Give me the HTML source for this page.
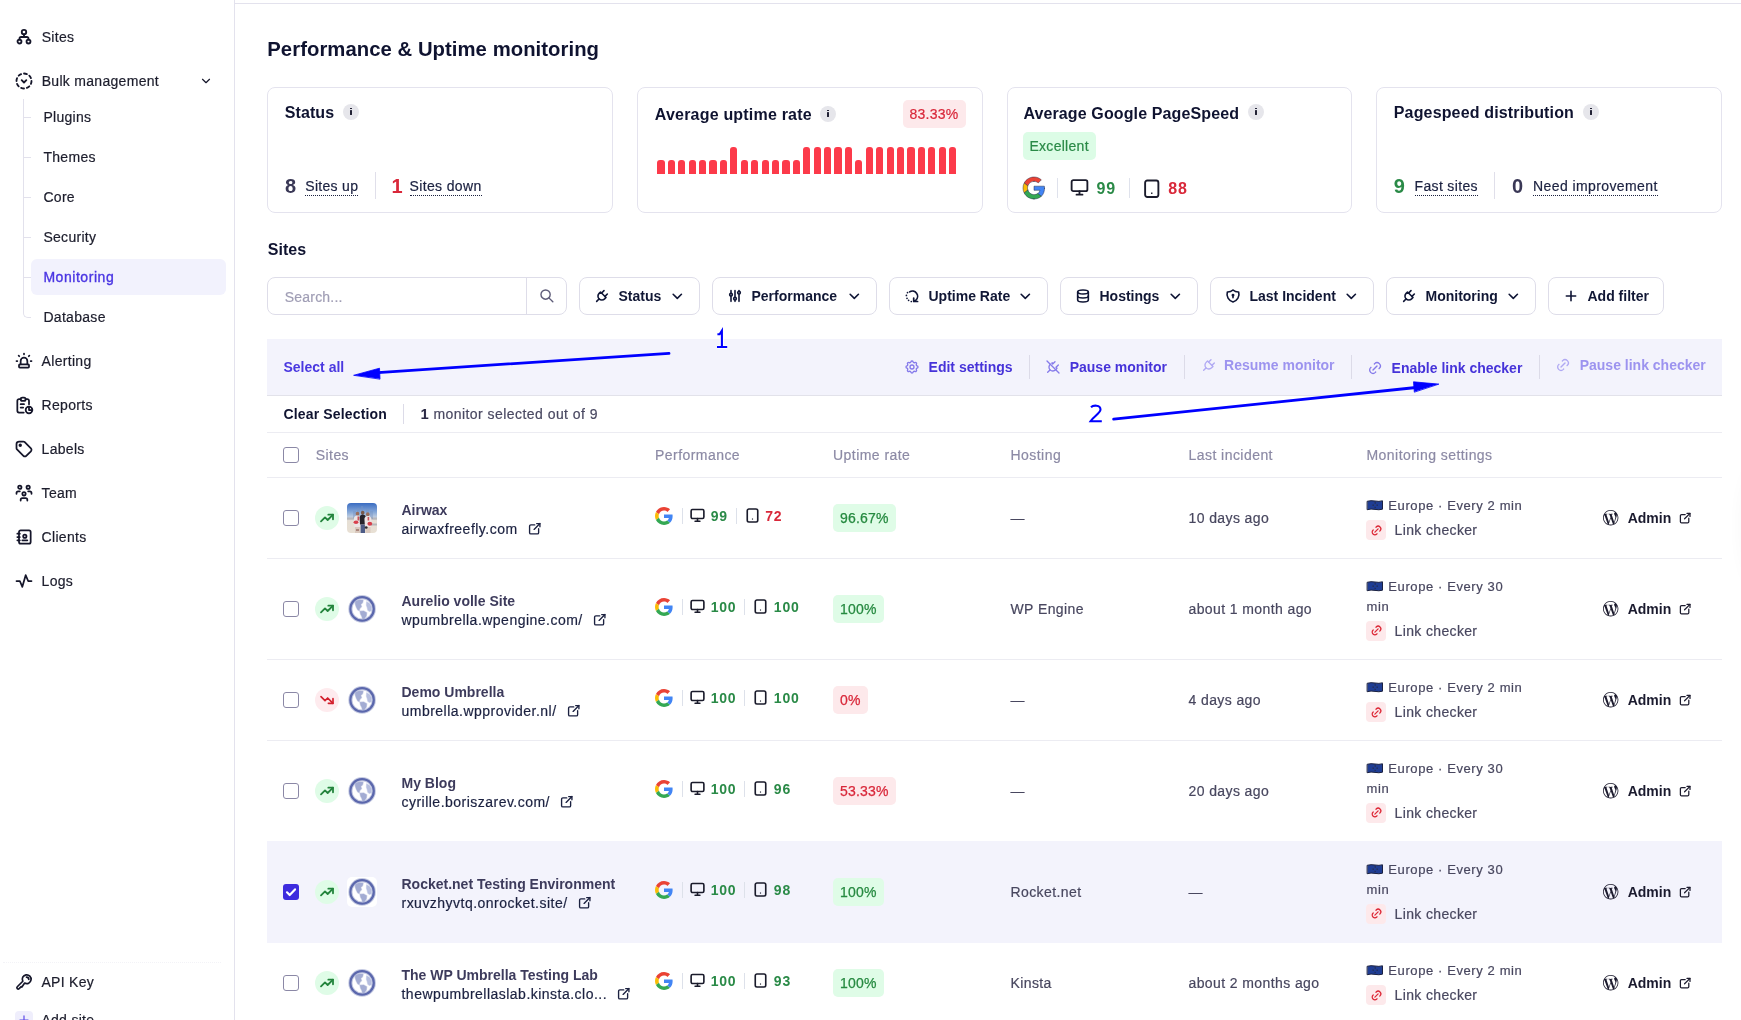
<!DOCTYPE html><html><head><meta charset="utf-8"><title>Performance &amp; Uptime monitoring</title><style>
*{box-sizing:border-box;margin:0;padding:0}
html,body{width:1741px;height:1020px;overflow:hidden;background:#fff}
body{position:relative;font-family:"Liberation Sans",sans-serif;font-size:14px;color:#1b2140}
.a{position:absolute}
.t{position:absolute;white-space:nowrap}
.ic{fill:none;stroke:currentColor;stroke-linecap:round;stroke-linejoin:round;overflow:visible}
.card{position:absolute;border:1px solid #e4e3ee;border-radius:8px;background:#fff}
.info{position:absolute;width:16px;height:16px;border-radius:50%;background:#e6e6eb}
.info:after{content:"";position:absolute;left:7px;top:6px;width:2px;height:5px;background:#222235;border-radius:0.5px}
.info:before{content:"";position:absolute;left:7px;top:3.5px;width:2px;height:1.6px;background:#222235}
.btn{position:absolute;top:277px;height:38px;border:1px solid #dedde9;border-radius:8px;background:#fff}
.dot{border-bottom:1px dotted #1b2140;padding-bottom:1px;display:inline-block;line-height:16px}
.vr{position:absolute;width:1px}
.hr{position:absolute;height:1px}
.cb{position:absolute;width:16px;height:16px;border:1.3px solid #8b88a6;border-radius:3px;background:#fff}
.badge{position:absolute;border-radius:5px}

</style></head><body>
<div id="root" style="position:absolute;left:0;top:0;width:1741px;height:1020px;will-change:transform">
<svg width="0" height="0" style="position:absolute"><defs><filter id="gb" x="-20%" y="-20%" width="140%" height="140%"><feGaussianBlur stdDeviation="0.7"/></filter></defs></svg>
<div class="vr" style="left:234px;top:0;height:1020px;background:#e3e2ed"></div>
<svg class="a ic" style="left:14px;top:26px;width:20px;height:20px;color:#15162a;" viewBox="0 0 24 24" stroke-width="2.2" ><circle cx="12" cy="7.3" r="2.7"/><circle cx="6.6" cy="18.6" r="2.35"/><circle cx="17.4" cy="18.6" r="2.35"/><path d="M12 9.9v3.3M6.6 16.4v-1.2a2 2 0 0 1 2-2h6.8a2 2 0 0 1 2 2v1.2"/></svg>
<div class="t " style="left:41.7px;top:27.15px;font-size:14px;line-height:20px;-webkit-text-stroke:0.2px;color:#1c1d2c;letter-spacing:0.3px;">Sites</div>
<svg class="a ic" style="left:14px;top:71px;width:20px;height:20px;color:#15162a;" viewBox="0 0 24 24" stroke-width="2.2" ><path d="M8.56 3.69a9 9 0 0 0-2.92 1.95M3.69 8.56A9 9 0 0 0 3 12M3.69 15.44a9 9 0 0 0 1.95 2.92M8.56 20.31A9 9 0 0 0 12 21M15.44 20.31a9 9 0 0 0 2.92-1.95M20.31 15.44A9 9 0 0 0 21 12M20.31 8.56a9 9 0 0 0-1.95-2.92M15.44 3.69A9 9 0 0 0 12 3"/><path d="M9.2 11l2.8 2.8 2.8-2.8"/></svg>
<div class="t " style="left:41.7px;top:71.15px;font-size:14px;line-height:20px;-webkit-text-stroke:0.2px;color:#1c1d2c;letter-spacing:0.3px;">Bulk management</div>
<svg class="a ic" style="left:199px;top:74px;width:14px;height:14px;color:#15162a;" viewBox="0 0 24 24" stroke-width="2" ><path d="M6 9l6 6l6-6"/></svg>
<div class="vr" style="left:23px;top:99px;height:212px;background:#e2e1ec"></div>
<div class="hr" style="left:23px;top:117px;width:8px;background:#e2e1ec"></div>
<div class="t " style="left:43.4px;top:107.15px;font-size:14px;line-height:20px;-webkit-text-stroke:0.2px;color:#1c1d2c;letter-spacing:0.3px;">Plugins</div>
<div class="hr" style="left:23px;top:157px;width:8px;background:#e2e1ec"></div>
<div class="t " style="left:43.4px;top:147.15px;font-size:14px;line-height:20px;-webkit-text-stroke:0.2px;color:#1c1d2c;letter-spacing:0.3px;">Themes</div>
<div class="hr" style="left:23px;top:197px;width:8px;background:#e2e1ec"></div>
<div class="t " style="left:43.4px;top:187.15px;font-size:14px;line-height:20px;-webkit-text-stroke:0.2px;color:#1c1d2c;letter-spacing:0.3px;">Core</div>
<div class="hr" style="left:23px;top:237px;width:8px;background:#e2e1ec"></div>
<div class="t " style="left:43.4px;top:227.15px;font-size:14px;line-height:20px;-webkit-text-stroke:0.2px;color:#1c1d2c;letter-spacing:0.3px;">Security</div>
<div class="hr" style="left:23px;top:277px;width:8px;background:#e2e1ec"></div>
<div class="a" style="left:31px;top:259px;width:195px;height:36px;border-radius:6px;background:#f2f2fd"></div>
<div class="t " style="left:43.4px;top:267.15px;font-size:14px;line-height:20px;-webkit-text-stroke:0.2px;color:#4a35e3;letter-spacing:0.55px;-webkit-text-stroke:0.35px #4a35e3;">Monitoring</div>
<div class="a" style="left:23px;top:311px;width:8px;height:7px;border-left:1px solid #e2e1ec;border-bottom:1px solid #e2e1ec;border-bottom-left-radius:5px"></div>
<div class="t " style="left:43.4px;top:307.15px;font-size:14px;line-height:20px;-webkit-text-stroke:0.2px;color:#1c1d2c;letter-spacing:0.3px;">Database</div>
<svg class="a ic" style="left:14px;top:351px;width:20px;height:20px;color:#15162a;" viewBox="0 0 24 24" stroke-width="2.1" ><path d="M8 16v-4a4 4 0 0 1 8 0v4"/><path d="M3 12h1M12 3v1M20 12h1M5.6 5.6l.7 .7M18.4 5.6l-.7 .7"/><rect x="6" y="16" width="12" height="4" rx="1"/></svg>
<div class="t " style="left:41.6px;top:351.15px;font-size:14px;line-height:20px;-webkit-text-stroke:0.2px;color:#1c1d2c;letter-spacing:0.3px;">Alerting</div>
<svg class="a ic" style="left:14px;top:395px;width:20px;height:20px;color:#15162a;" viewBox="0 0 24 24" stroke-width="2.1" ><path d="M8 5h-2a2 2 0 0 0-2 2v12a2 2 0 0 0 2 2h5.7"/><path d="M18 14v4h4"/><path d="M18 11v-4a2 2 0 0 0-2-2h-2"/><rect x="8" y="3" width="6" height="4" rx="2"/><circle cx="18" cy="18" r="4"/><path d="M8 11h4M8 15h3"/></svg>
<div class="t " style="left:41.6px;top:395.15px;font-size:14px;line-height:20px;-webkit-text-stroke:0.2px;color:#1c1d2c;letter-spacing:0.3px;">Reports</div>
<svg class="a ic" style="left:14px;top:439px;width:20px;height:20px;color:#15162a;" viewBox="0 0 24 24" stroke-width="2.1" ><circle cx="7.5" cy="7.5" r="1" fill="currentColor"/><path d="M3 6v5.17a2 2 0 0 0 .59 1.42l7.71 7.7a2.41 2.41 0 0 0 3.41 0l5.59-5.58a2.41 2.41 0 0 0 0-3.41l-7.71-7.71a2 2 0 0 0-1.41-.59h-5.18a3 3 0 0 0-3 3z"/></svg>
<div class="t " style="left:41.6px;top:439.15px;font-size:14px;line-height:20px;-webkit-text-stroke:0.2px;color:#1c1d2c;letter-spacing:0.3px;">Labels</div>
<svg class="a ic" style="left:14px;top:483px;width:20px;height:20px;color:#15162a;" viewBox="0 0 24 24" stroke-width="2.1" ><circle cx="12" cy="13" r="2"/><path d="M8 21v-1a2 2 0 0 1 2-2h4a2 2 0 0 1 2 2v1"/><circle cx="17" cy="5" r="2"/><path d="M17 10h2a2 2 0 0 1 2 2v1"/><circle cx="7" cy="5" r="2"/><path d="M3 13v-1a2 2 0 0 1 2-2h2"/></svg>
<div class="t " style="left:41.6px;top:483.15px;font-size:14px;line-height:20px;-webkit-text-stroke:0.2px;color:#1c1d2c;letter-spacing:0.3px;">Team</div>
<svg class="a ic" style="left:14px;top:527px;width:20px;height:20px;color:#15162a;" viewBox="0 0 24 24" stroke-width="2.1" ><path d="M20 6v12a2 2 0 0 1-2 2h-10a2 2 0 0 1-2-2v-12a2 2 0 0 1 2-2h10a2 2 0 0 1 2 2z"/><path d="M10 16h6"/><circle cx="13" cy="11" r="2"/><path d="M4 8h3M4 12h3M4 16h3"/></svg>
<div class="t " style="left:41.6px;top:527.15px;font-size:14px;line-height:20px;-webkit-text-stroke:0.2px;color:#1c1d2c;letter-spacing:0.3px;">Clients</div>
<svg class="a ic" style="left:14px;top:571px;width:20px;height:20px;color:#15162a;" viewBox="0 0 24 24" stroke-width="2.1" ><path d="M3 12h4l3 7l4-14l3 7h4"/></svg>
<div class="t " style="left:41.6px;top:571.15px;font-size:14px;line-height:20px;-webkit-text-stroke:0.2px;color:#1c1d2c;letter-spacing:0.3px;">Logs</div>
<div class="hr" style="left:3px;top:962px;width:218px;border-top:1px dotted #f3f3f7"></div>
<svg class="a ic" style="left:12px;top:970px;width:24px;height:24px;color:#15162a;" viewBox="0 0 24 24" stroke-width="1.7" ><path d="M10.81 11.25L5.29 16.77A1.3 1.3 0 0 0 7.13 18.61L9.2 16.6L9.9 17.1L12.65 13.09A4.4 4.4 0 1 0 10.81 11.25Z"/><path d="M14.5 7.1a2.4 2.4 0 0 1 2.3 2.3"/></svg>
<div class="t " style="left:41.4px;top:972.15px;font-size:14px;line-height:20px;-webkit-text-stroke:0.2px;color:#1c1d2c;letter-spacing:0.3px;">API Key</div>
<div class="a" style="left:15px;top:1011px;width:18px;height:18px;border-radius:4px;background:#efeefc"></div>
<svg class="a ic" style="left:17px;top:1013px;width:14px;height:14px;color:#5a46e6;" viewBox="0 0 24 24" stroke-width="2" ><path d="M12 5v14M5 12h14"/></svg>
<div class="t " style="left:41.4px;top:1009.65px;font-size:14px;line-height:20px;-webkit-text-stroke:0.2px;color:#1c1d2c;letter-spacing:0.3px;">Add site</div>
<div class="hr" style="left:235px;top:3px;width:1506px;background:#e3e2ed"></div>
<div class="t " style="left:267.3px;top:35.37px;font-size:20.3px;line-height:28px;font-weight:700;color:#0f1330;letter-spacing:0.05px;">Performance &amp; Uptime monitoring</div>
<div class="card" style="left:267px;top:87px;width:345.75px;height:126px"></div>
<div class="card" style="left:636.75px;top:87px;width:345.75px;height:126px"></div>
<div class="card" style="left:1006.5px;top:87px;width:345.75px;height:126px"></div>
<div class="card" style="left:1376.25px;top:87px;width:345.75px;height:126px"></div>
<div class="t " style="left:284.7px;top:102.36px;font-size:16px;line-height:22px;font-weight:700;color:#0f1330;letter-spacing:0.1px;">Status</div>
<div class="info" style="left:343px;top:104px"></div>
<div class="t " style="left:284.9px;top:171.57px;font-size:20px;line-height:28px;font-weight:700;color:#3a3856;">8</div>
<div class="t " style="left:305.3px;top:176.05px;font-size:14px;line-height:20px;-webkit-text-stroke:0.2px;color:#1b2140;letter-spacing:0.3px;"><span class="dot">Sites up</span></div>
<div class="vr" style="left:375px;top:172px;height:27px;background:#e0dfea"></div>
<div class="t " style="left:391.5px;top:171.57px;font-size:20px;line-height:28px;font-weight:700;color:#d9283a;">1</div>
<div class="t " style="left:409.6px;top:176.05px;font-size:14px;line-height:20px;-webkit-text-stroke:0.2px;color:#1b2140;letter-spacing:0.35px;"><span class="dot">Sites down</span></div>
<div class="t " style="left:654.8px;top:104.46px;font-size:16px;line-height:22px;font-weight:700;color:#0f1330;letter-spacing:0.2px;">Average uptime rate</div>
<div class="info" style="left:820px;top:106px"></div>
<div class="badge" style="left:903px;top:100px;width:63px;height:28px;background:#fde9eb"></div>
<div class="t " style="left:909.6px;top:104.15px;font-size:14px;line-height:20px;-webkit-text-stroke:0.2px;color:#d9283a;letter-spacing:0.2px;">83.33%</div>
<div class="a" style="left:657.40px;top:160px;width:7.2px;height:14px;background:#fc3a4a;border-radius:3px 3px 0 0"></div>
<div class="a" style="left:667.81px;top:160px;width:7.2px;height:14px;background:#fc3a4a;border-radius:3px 3px 0 0"></div>
<div class="a" style="left:678.23px;top:160px;width:7.2px;height:14px;background:#fc3a4a;border-radius:3px 3px 0 0"></div>
<div class="a" style="left:688.64px;top:160px;width:7.2px;height:14px;background:#fc3a4a;border-radius:3px 3px 0 0"></div>
<div class="a" style="left:699.06px;top:160px;width:7.2px;height:14px;background:#fc3a4a;border-radius:3px 3px 0 0"></div>
<div class="a" style="left:709.47px;top:160px;width:7.2px;height:14px;background:#fc3a4a;border-radius:3px 3px 0 0"></div>
<div class="a" style="left:719.88px;top:160px;width:7.2px;height:14px;background:#fc3a4a;border-radius:3px 3px 0 0"></div>
<div class="a" style="left:730.30px;top:147px;width:7.2px;height:27px;background:#fc3a4a;border-radius:3px 3px 0 0"></div>
<div class="a" style="left:740.71px;top:160px;width:7.2px;height:14px;background:#fc3a4a;border-radius:3px 3px 0 0"></div>
<div class="a" style="left:751.13px;top:160px;width:7.2px;height:14px;background:#fc3a4a;border-radius:3px 3px 0 0"></div>
<div class="a" style="left:761.54px;top:160px;width:7.2px;height:14px;background:#fc3a4a;border-radius:3px 3px 0 0"></div>
<div class="a" style="left:771.95px;top:160px;width:7.2px;height:14px;background:#fc3a4a;border-radius:3px 3px 0 0"></div>
<div class="a" style="left:782.37px;top:160px;width:7.2px;height:14px;background:#fc3a4a;border-radius:3px 3px 0 0"></div>
<div class="a" style="left:792.78px;top:160px;width:7.2px;height:14px;background:#fc3a4a;border-radius:3px 3px 0 0"></div>
<div class="a" style="left:803.20px;top:147px;width:7.2px;height:27px;background:#fc3a4a;border-radius:3px 3px 0 0"></div>
<div class="a" style="left:813.61px;top:147px;width:7.2px;height:27px;background:#fc3a4a;border-radius:3px 3px 0 0"></div>
<div class="a" style="left:824.02px;top:147px;width:7.2px;height:27px;background:#fc3a4a;border-radius:3px 3px 0 0"></div>
<div class="a" style="left:834.44px;top:147px;width:7.2px;height:27px;background:#fc3a4a;border-radius:3px 3px 0 0"></div>
<div class="a" style="left:844.85px;top:147px;width:7.2px;height:27px;background:#fc3a4a;border-radius:3px 3px 0 0"></div>
<div class="a" style="left:855.27px;top:160px;width:7.2px;height:14px;background:#fc3a4a;border-radius:3px 3px 0 0"></div>
<div class="a" style="left:865.68px;top:147px;width:7.2px;height:27px;background:#fc3a4a;border-radius:3px 3px 0 0"></div>
<div class="a" style="left:876.09px;top:147px;width:7.2px;height:27px;background:#fc3a4a;border-radius:3px 3px 0 0"></div>
<div class="a" style="left:886.51px;top:147px;width:7.2px;height:27px;background:#fc3a4a;border-radius:3px 3px 0 0"></div>
<div class="a" style="left:896.92px;top:147px;width:7.2px;height:27px;background:#fc3a4a;border-radius:3px 3px 0 0"></div>
<div class="a" style="left:907.34px;top:147px;width:7.2px;height:27px;background:#fc3a4a;border-radius:3px 3px 0 0"></div>
<div class="a" style="left:917.75px;top:147px;width:7.2px;height:27px;background:#fc3a4a;border-radius:3px 3px 0 0"></div>
<div class="a" style="left:928.16px;top:147px;width:7.2px;height:27px;background:#fc3a4a;border-radius:3px 3px 0 0"></div>
<div class="a" style="left:938.58px;top:147px;width:7.2px;height:27px;background:#fc3a4a;border-radius:3px 3px 0 0"></div>
<div class="a" style="left:948.99px;top:147px;width:7.2px;height:27px;background:#fc3a4a;border-radius:3px 3px 0 0"></div>
<div class="t " style="left:1023.4px;top:102.56px;font-size:16px;line-height:22px;font-weight:700;color:#0f1330;letter-spacing:0.12px;">Average Google PageSpeed</div>
<div class="info" style="left:1248px;top:104px"></div>
<div class="badge" style="left:1023px;top:132px;width:73px;height:28px;background:#dcfce6"></div>
<div class="t " style="left:1029.4px;top:136.45px;font-size:14px;line-height:20px;-webkit-text-stroke:0.2px;color:#2a8a47;letter-spacing:0.3px;">Excellent</div>
<svg class="a ic" style="left:1023px;top:177px;width:22px;height:22px;" viewBox="0 0 48 48" style2><path fill="#EA4335" d="M24 9.5c3.54 0 6.71 1.22 9.21 3.6l6.85-6.85C35.9 2.38 30.47 0 24 0 14.62 0 6.51 5.38 2.56 13.22l7.98 6.19C12.43 13.72 17.74 9.5 24 9.5z"/><path fill="#4285F4" d="M46.98 24.55c0-1.57-.15-3.09-.38-4.55H24v9.02h12.94c-.58 2.96-2.26 5.48-4.78 7.18l7.73 6c4.51-4.18 7.09-10.36 7.09-17.65z"/><path fill="#FBBC05" d="M10.53 28.59c-.48-1.45-.76-2.99-.76-4.59s.27-3.14.76-4.59l-7.98-6.19C.92 16.46 0 20.12 0 24c0 3.88.92 7.54 2.56 10.78l7.97-6.19z"/><path fill="#34A853" d="M24 48c6.48 0 11.93-2.13 15.89-5.81l-7.73-6c-2.15 1.45-4.92 2.3-8.16 2.3-6.26 0-11.57-4.22-13.47-9.91l-7.98 6.19C6.51 42.62 14.62 48 24 48z"/></svg>
<div class="vr" style="left:1057px;top:178px;height:20px;background:#dfe2ec"></div>
<svg class="a ic" style="left:1069.1px;top:177.2px;width:21px;height:21px;color:#1a1b2b;" viewBox="0 0 24 24" stroke-width="2.1" ><rect x="3" y="3.6" width="18" height="12.6" rx="2"/><path d="M12 16.2v3.6M8.6 20.2h6.8"/></svg>
<div class="t " style="left:1096.6px;top:177.96px;font-size:16px;line-height:22px;font-weight:700;color:#2a8a47;letter-spacing:0.8px;">99</div>
<div class="vr" style="left:1129px;top:178px;height:20px;background:#dfe2ec"></div>
<svg class="a ic" style="left:1140.7px;top:177.5px;width:21.5px;height:21.5px;color:#1a1b2b;" viewBox="0 0 24 24" stroke-width="2.1" ><rect x="4.6" y="2.8" width="14.8" height="18.4" rx="2.4"/><rect x="11.2" y="16.2" width="1.6" height="1.6" fill="currentColor" stroke="none"/></svg>
<div class="t " style="left:1168.2px;top:177.96px;font-size:16px;line-height:22px;font-weight:700;color:#d9283a;letter-spacing:0.8px;">88</div>
<div class="t " style="left:1393.8px;top:102.36px;font-size:16px;line-height:22px;font-weight:700;color:#0f1330;letter-spacing:0.15px;">Pagespeed distribution</div>
<div class="info" style="left:1583px;top:104px"></div>
<div class="t " style="left:1393.8px;top:171.97px;font-size:20px;line-height:28px;font-weight:700;color:#2a8a47;">9</div>
<div class="t " style="left:1414.5px;top:176.05px;font-size:14px;line-height:20px;-webkit-text-stroke:0.2px;color:#1b2140;letter-spacing:0.35px;"><span class="dot">Fast sites</span></div>
<div class="vr" style="left:1494px;top:172px;height:27px;background:#e0dfea"></div>
<div class="t " style="left:1511.9px;top:171.97px;font-size:20px;line-height:28px;font-weight:700;color:#3a3856;">0</div>
<div class="t " style="left:1533.1px;top:176.05px;font-size:14px;line-height:20px;-webkit-text-stroke:0.2px;color:#1b2140;letter-spacing:0.4px;"><span class="dot">Need improvement</span></div>
<div class="t " style="left:267.8px;top:239.26px;font-size:16px;line-height:22px;font-weight:700;color:#0f1330;">Sites</div>
<div class="btn" style="left:267px;width:300px"></div>
<div class="vr" style="left:526px;top:278px;height:36px;background:#dedde9"></div>
<div class="t " style="left:284.8px;top:287.35px;font-size:14px;line-height:20px;-webkit-text-stroke:0.2px;color:#a09eb5;letter-spacing:0.2px;">Search...</div>
<svg class="a ic" style="left:538.9px;top:287.7px;width:15.8px;height:15.8px;color:#5d5b78;" viewBox="0 0 24 24" stroke-width="2.1" ><circle cx="10" cy="10" r="7"/><path d="M21 21l-6-6"/></svg>
<div class="btn" style="left:579px;width:121px"></div>
<svg class="a ic" style="left:594px;top:288.3px;width:16px;height:16px;color:#0f1535;" viewBox="0 0 24 24" stroke-width="2.4" ><path d="M9.785 6l8.215 8.215l-2.054 2.054a5.81 5.81 0 1 1-8.215-8.215l2.054-2.054z"/><path d="M4 20l3.5-3.5M15 4l-3.5 3.5M20 9l-3.5 3.5"/></svg>
<div class="t " style="left:618.5px;top:286.25px;font-size:14px;line-height:20px;font-weight:700;color:#111735;">Status</div>
<svg class="a ic" style="left:668.7px;top:288px;width:16.6px;height:16.6px;color:#0f1535;" viewBox="0 0 24 24" stroke-width="2.3" ><path d="M6 9l6 6l6-6"/></svg>
<div class="btn" style="left:712px;width:165px"></div>
<svg class="a ic" style="left:727px;top:288.3px;width:16px;height:16px;color:#0f1535;" viewBox="0 0 24 24" stroke-width="2.4" ><circle cx="6" cy="10" r="2"/><path d="M6 4v4M6 12v8"/><circle cx="12" cy="16" r="2"/><path d="M12 4v10M12 18v2"/><circle cx="18" cy="7" r="2"/><path d="M18 4v1M18 9v11"/></svg>
<div class="t " style="left:751.5px;top:286.25px;font-size:14px;line-height:20px;font-weight:700;color:#111735;">Performance</div>
<svg class="a ic" style="left:845.7px;top:288px;width:16.6px;height:16.6px;color:#0f1535;" viewBox="0 0 24 24" stroke-width="2.3" ><path d="M6 9l6 6l6-6"/></svg>
<div class="btn" style="left:889px;width:159px"></div>
<svg class="a ic" style="left:902px;top:286px;width:20px;height:20px;color:#0f1535;" viewBox="0 0 20 20" stroke-width="1.7" ><path d="M7.64 5.89A5.2 5.2 0 0 1 13.88 14.16L12.4 15"/><path d="M11.7 12.1V15.5H15.6"/><path d="M5.5 6.6h.01M4.4 9.4h.01M5 12.3h.01M6.6 14.3h.01M9.3 15.5h.01"/></svg>
<div class="t " style="left:928.5px;top:286.25px;font-size:14px;line-height:20px;font-weight:700;color:#111735;">Uptime Rate</div>
<svg class="a ic" style="left:1016.7px;top:288px;width:16.6px;height:16.6px;color:#0f1535;" viewBox="0 0 24 24" stroke-width="2.3" ><path d="M6 9l6 6l6-6"/></svg>
<div class="btn" style="left:1060px;width:138px"></div>
<svg class="a ic" style="left:1075px;top:288.3px;width:16px;height:16px;color:#0f1535;" viewBox="0 0 24 24" stroke-width="2.4" ><ellipse cx="12" cy="6" rx="8" ry="3"/><path d="M4 6v6a8 3 0 0 0 16 0v-6"/><path d="M4 12v6a8 3 0 0 0 16 0v-6"/></svg>
<div class="t " style="left:1099.5px;top:286.25px;font-size:14px;line-height:20px;font-weight:700;color:#111735;">Hostings</div>
<svg class="a ic" style="left:1166.7px;top:288px;width:16.6px;height:16.6px;color:#0f1535;" viewBox="0 0 24 24" stroke-width="2.3" ><path d="M6 9l6 6l6-6"/></svg>
<div class="btn" style="left:1210px;width:164px"></div>
<svg class="a ic" style="left:1225px;top:288.3px;width:16px;height:16px;color:#0f1535;" viewBox="0 0 24 24" stroke-width="2.4" ><path d="M12 3a12 12 0 0 0 8.5 3a12 12 0 0 1-8.5 15a12 12 0 0 1-8.5-15a12 12 0 0 0 8.5-3"/><circle cx="12" cy="11" r="1" fill="currentColor"/><path d="M12 12v2.5"/></svg>
<div class="t " style="left:1249.5px;top:286.25px;font-size:14px;line-height:20px;font-weight:700;color:#111735;">Last Incident</div>
<svg class="a ic" style="left:1342.7px;top:288px;width:16.6px;height:16.6px;color:#0f1535;" viewBox="0 0 24 24" stroke-width="2.3" ><path d="M6 9l6 6l6-6"/></svg>
<div class="btn" style="left:1386px;width:150px"></div>
<svg class="a ic" style="left:1401px;top:288.3px;width:16px;height:16px;color:#0f1535;" viewBox="0 0 24 24" stroke-width="2.4" ><path d="M9.785 6l8.215 8.215l-2.054 2.054a5.81 5.81 0 1 1-8.215-8.215l2.054-2.054z"/><path d="M4 20l3.5-3.5M15 4l-3.5 3.5M20 9l-3.5 3.5"/></svg>
<div class="t " style="left:1425.5px;top:286.25px;font-size:14px;line-height:20px;font-weight:700;color:#111735;">Monitoring</div>
<svg class="a ic" style="left:1504.7px;top:288px;width:16.6px;height:16.6px;color:#0f1535;" viewBox="0 0 24 24" stroke-width="2.3" ><path d="M6 9l6 6l6-6"/></svg>
<div class="btn" style="left:1548px;width:116px"></div>
<svg class="a ic" style="left:1563px;top:288.3px;width:16px;height:16px;color:#0f1535;" viewBox="0 0 24 24" stroke-width="2.4" ><path d="M12 5v14M5 12h14"/></svg>
<div class="t " style="left:1587.5px;top:286.25px;font-size:14px;line-height:20px;font-weight:700;color:#111735;">Add filter</div>
<div class="a" style="left:267px;top:339px;width:1455px;height:57px;background:#f3f3fc;border-bottom:1px solid #e2e2ea"></div>
<div class="t " style="left:283.5px;top:357.15px;font-size:14px;line-height:20px;font-weight:700;color:#4a38e0;">Select all</div>
<svg class="a ic" style="left:903.8px;top:358.8px;width:16px;height:16px;color:#857aea;" viewBox="0 0 24 24" stroke-width="2" ><path d="M10.325 4.317c.426-1.756 2.924-1.756 3.35 0a1.724 1.724 0 0 0 2.573 1.066c1.543-.94 3.31.826 2.37 2.37a1.724 1.724 0 0 0 1.065 2.572c1.756.426 1.756 2.924 0 3.35a1.724 1.724 0 0 0-1.066 2.573c.94 1.543-.826 3.31-2.37 2.37a1.724 1.724 0 0 0-2.572 1.065c-.426 1.756-2.924 1.756-3.35 0a1.724 1.724 0 0 0-2.573-1.066c-1.543.94-3.31-.826-2.37-2.37a1.724 1.724 0 0 0-1.065-2.572c-1.756-.426-1.756-2.924 0-3.35a1.724 1.724 0 0 0 1.066-2.573c-.94-1.543.826-3.31 2.37-2.37c1 .608 2.296.07 2.572-1.065z"/><circle cx="12" cy="12" r="3"/></svg>
<div class="t " style="left:928.6px;top:357.25px;font-size:14px;line-height:20px;font-weight:700;color:#4633d9;">Edit settings</div>
<svg class="a ic" style="left:1044.8px;top:358.8px;width:16px;height:16px;color:#857aea;" viewBox="0 0 24 24" stroke-width="2" ><path d="M16.123 16.092l-.177.177a5.81 5.81 0 1 1-8.215-8.215l.159-.159"/><path d="M4 20l3.5-3.5M15 4l-3.5 3.5M20 9l-3.5 3.5M3 3l18 18M17.2 13.2l.8.8-.6.6M10.8 6.8l-.6-.6.6-.6"/></svg>
<div class="t " style="left:1069.7px;top:357.25px;font-size:14px;line-height:20px;font-weight:700;color:#4633d9;">Pause monitor</div>
<svg class="a ic" style="left:1200.8px;top:356.5px;width:16px;height:16px;color:#b0a9f3;" viewBox="0 0 24 24" stroke-width="2" ><path d="M9.785 6l8.215 8.215l-2.054 2.054a5.81 5.81 0 1 1-8.215-8.215l2.054-2.054z"/><path d="M4 20l3.5-3.5M15 4l-3.5 3.5M20 9l-3.5 3.5"/></svg>
<div class="t " style="left:1224.1px;top:354.95px;font-size:14px;line-height:20px;font-weight:700;color:#9c93ef;">Resume monitor</div>
<svg class="a ic" style="left:1366.8px;top:359.8px;width:16px;height:16px;color:#857aea;" viewBox="0 0 24 24" stroke-width="2" ><path d="M9 15l6-6"/><path d="M11 6l.463-.536a5 5 0 0 1 7.071 7.072l-.534.464"/><path d="M13 18l-.397.534a5.068 5.068 0 0 1-7.127 0a4.972 4.972 0 0 1 0-7.071l.524-.463"/></svg>
<div class="t " style="left:1391.6px;top:358.25px;font-size:14px;line-height:20px;font-weight:700;color:#4633d9;">Enable link checker</div>
<svg class="a ic" style="left:1554.8px;top:356.7px;width:16px;height:16px;color:#b0a9f3;" viewBox="0 0 24 24" stroke-width="2" ><path d="M9 15l6-6"/><path d="M11 6l.463-.536a5 5 0 0 1 7.071 7.072l-.534.464"/><path d="M13 18l-.397.534a5.068 5.068 0 0 1-7.127 0a4.972 4.972 0 0 1 0-7.071l.524-.463"/></svg>
<div class="t " style="left:1579.7px;top:355.15px;font-size:14px;line-height:20px;font-weight:700;color:#9c93ef;">Pause link checker</div>
<div class="vr" style="left:1028.5px;top:355px;height:24px;background:#dcdbe8"></div>
<div class="vr" style="left:1183.5px;top:355px;height:24px;background:#dcdbe8"></div>
<div class="vr" style="left:1350.5px;top:355px;height:24px;background:#dcdbe8"></div>
<div class="vr" style="left:1538.5px;top:355px;height:24px;background:#dcdbe8"></div>
<div class="t " style="left:283.5px;top:404.25px;font-size:14px;line-height:20px;font-weight:700;color:#0f1330;letter-spacing:0.15px;">Clear Selection</div>
<div class="vr" style="left:403px;top:404px;height:20px;background:#dcdbe8"></div>
<div class="t " style="left:420.8px;top:404.25px;font-size:14px;line-height:20px;-webkit-text-stroke:0.2px;color:#4a4962;letter-spacing:0.45px;"><b style="color:#2a2944">1</b> monitor selected out of 9</div>
<div class="hr" style="left:267px;top:432px;width:1455px;background:#ececf2"></div>
<div class="cb" style="left:283px;top:447px"></div>
<div class="t " style="left:315.7px;top:445.15px;font-size:14px;line-height:20px;-webkit-text-stroke:0.2px;color:#8c8aa5;letter-spacing:0.45px;">Sites</div>
<div class="t " style="left:655px;top:445.15px;font-size:14px;line-height:20px;-webkit-text-stroke:0.2px;color:#8c8aa5;letter-spacing:0.45px;">Performance</div>
<div class="t " style="left:833px;top:445.15px;font-size:14px;line-height:20px;-webkit-text-stroke:0.2px;color:#8c8aa5;letter-spacing:0.45px;">Uptime rate</div>
<div class="t " style="left:1010.5px;top:445.15px;font-size:14px;line-height:20px;-webkit-text-stroke:0.2px;color:#8c8aa5;letter-spacing:0.45px;">Hosting</div>
<div class="t " style="left:1188.5px;top:445.15px;font-size:14px;line-height:20px;-webkit-text-stroke:0.2px;color:#8c8aa5;letter-spacing:0.45px;">Last incident</div>
<div class="t " style="left:1366.5px;top:445.15px;font-size:14px;line-height:20px;-webkit-text-stroke:0.2px;color:#8c8aa5;letter-spacing:0.45px;">Monitoring settings</div>
<div class="hr" style="left:267px;top:477px;width:1455px;background:#ececf2"></div>
<div class="hr" style="left:267px;top:558px;width:1455px;background:#ececf2"></div>
<div class="cb" style="left:283px;top:510px"></div>
<div class="a" style="left:315px;top:505.5px;width:24px;height:24px;border-radius:50%;background:#dffce7"></div>
<svg class="a ic" style="left:319.2px;top:510.0px;width:16px;height:16px;color:#23843c;" viewBox="0 0 24 24" stroke-width="2.7" ><path d="M3 17l6-6l4 4l8-8"/><path d="M14 7h7v7"/></svg>
<svg class="a" style="left:347px;top:503.0px;width:30px;height:30px" viewBox="0 0 30 30"><defs><linearGradient id="sky" x1="0" y1="0" x2="0" y2="1"><stop offset="0" stop-color="#3a6cc2"/><stop offset="0.3" stop-color="#86a8d8"/><stop offset="0.45" stop-color="#b9c9df"/><stop offset="0.52" stop-color="#d8d8da"/><stop offset="0.6" stop-color="#e6dfd5"/><stop offset="1" stop-color="#e8e0d4"/></linearGradient><clipPath id="pc"><rect width="30" height="30" rx="4"/></clipPath></defs><g clip-path="url(#pc)"><rect width="30" height="30" fill="url(#sky)"/><g fill="#7895c4" opacity="0.45"><rect x="6" y="8" width="3" height="8"/><rect x="10" y="5" width="2.5" height="11"/><rect x="14" y="3" width="2" height="13"/><rect x="19" y="6" width="3" height="10"/><rect x="23" y="8" width="3" height="8"/></g><rect x="0" y="14.5" width="30" height="2.2" fill="#7d7f88" opacity="0.35"/><rect x="24" y="20.5" width="6" height="2" fill="#5f6d88" opacity="0.35"/><ellipse cx="10.5" cy="10.8" rx="1.8" ry="2" fill="#9a6e5c"/><path d="M6.8 15.5 Q7.2 12.8 10.5 12.6 Q13.6 12.8 14 15.5 L13.6 24 L7.4 24Z" fill="#ece4e4"/><ellipse cx="9" cy="19.3" rx="2.4" ry="1.8" fill="#d9404c"/><rect x="10.5" y="13.5" width="1.6" height="4" fill="#c8505a"/><rect x="8" y="24" width="5" height="6" fill="#d9c8bd"/><rect x="9" y="26" width="3" height="2" fill="#8a5a50" opacity="0.6"/><ellipse cx="15.7" cy="9.8" rx="1.8" ry="2" fill="#7a5848"/><path d="M12.6 14 Q13 11.6 15.7 11.5 Q18.6 11.6 19 14 L18.6 21.5 L13 21.5Z" fill="#26232b"/><rect x="13.6" y="21.5" width="4.4" height="8.5" fill="#4d5b86"/><ellipse cx="20.8" cy="11.2" rx="1.8" ry="2" fill="#9a6e5c"/><path d="M17.4 15.8 Q17.8 13 20.8 12.9 Q24 13 24.4 15.8 L24 24 L18 24Z" fill="#ede5e5"/><ellipse cx="22.8" cy="20.8" rx="2.4" ry="2" fill="#d63e4a"/><rect x="20.6" y="14" width="1.6" height="3.5" fill="#c8505a"/><rect x="18.5" y="24" width="5" height="6" fill="#dccbc0"/><ellipse cx="19.2" cy="24.5" rx="1.4" ry="1.2" fill="#2a2a30"/></g></svg>
<div class="t " style="left:401.5px;top:499.65px;font-size:14px;line-height:20px;font-weight:700;color:#3d3b5c;">Airwax</div>
<div class="t " style="left:401.5px;top:518.65px;font-size:14px;line-height:20px;-webkit-text-stroke:0.2px;color:#1b2140;letter-spacing:0.48px;">airwaxfreefly.com<svg class="ic" style="position:relative;display:inline-block;vertical-align:top;margin-top:2.6px;margin-left:9.4px;width:15.5px;height:15.5px;color:#1b2140" viewBox="0 0 24 24" stroke-width="2.1"><path d="M12 6h-6a2 2 0 0 0-2 2v10a2 2 0 0 0 2 2h10a2 2 0 0 0 2-2v-6"/><path d="M11 13l9-9"/><path d="M15 4h5v5"/></svg></div>
<div class="a" style="left:655px;top:506.0px;height:20px;display:flex;align-items:center;font-weight:700;font-size:14px;letter-spacing:0.8px;white-space:nowrap"><svg style="width:18px;height:18px;flex:none" viewBox="0 0 48 48"><path fill="#EA4335" d="M24 9.5c3.54 0 6.71 1.22 9.21 3.6l6.85-6.85C35.9 2.38 30.47 0 24 0 14.62 0 6.51 5.38 2.56 13.22l7.98 6.19C12.43 13.72 17.74 9.5 24 9.5z"/><path fill="#4285F4" d="M46.98 24.55c0-1.57-.15-3.09-.38-4.55H24v9.02h12.94c-.58 2.96-2.26 5.48-4.78 7.18l7.73 6c4.51-4.18 7.09-10.36 7.09-17.65z"/><path fill="#FBBC05" d="M10.53 28.59c-.48-1.45-.76-2.99-.76-4.59s.27-3.14.76-4.59l-7.98-6.19C.92 16.46 0 20.12 0 24c0 3.88.92 7.54 2.56 10.78l7.97-6.19z"/><path fill="#34A853" d="M24 48c6.48 0 11.93-2.13 15.89-5.81l-7.73-6c-2.15 1.45-4.92 2.3-8.16 2.3-6.26 0-11.57-4.22-13.47-9.91l-7.98 6.19C6.51 42.62 14.62 48 24 48z"/></svg><span style="width:8.5px"></span><span style="width:1px;height:16px;background:#dde1ea;flex:none"></span><span style="width:7.1px"></span><svg class="ic" style="width:17px;height:17px;color:#1a1b2b;flex:none;position:relative;top:-0.6px;left:-0.4px" viewBox="0 0 24 24" stroke-width="2.3"><rect x="3" y="3.6" width="18" height="12.6" rx="2"/><path d="M12 16.2v3.6M8.6 20.2h6.8"/></svg><span style="width:4.1px"></span><span style="color:#2a8a47;line-height:20px;position:relative;top:-0.4px">99</span><span style="width:8px"></span><span style="width:1px;height:16px;background:#dde1ea;flex:none"></span><span style="width:6.7px"></span><svg class="ic" style="width:17px;height:17px;color:#1a1b2b;flex:none;position:relative;top:-0.6px" viewBox="0 0 24 24" stroke-width="2.3"><rect x="4.6" y="2.8" width="14.8" height="18.4" rx="2.4"/><rect x="11.2" y="16.2" width="1.6" height="1.6" fill="currentColor" stroke="none"/></svg><span style="width:4.7px"></span><span style="color:#d9283a;line-height:20px;position:relative;top:-0.4px">72</span></div>
<div class="badge uptb" data-t="96.67%" style="left:833px;top:503.5px;height:28px;background:#dffce7;color:#268a40;font-size:14px;line-height:28px;padding:0 7px;letter-spacing:0.2px;white-space:nowrap;-webkit-text-stroke:0.25px">96.67%</div>
<div class="t " style="left:1010.5px;top:507.65px;font-size:14px;line-height:20px;-webkit-text-stroke:0.2px;color:#48475f;letter-spacing:0.4px;">—</div>
<div class="t " style="left:1188.5px;top:507.65px;font-size:14px;line-height:20px;-webkit-text-stroke:0.2px;color:#48475f;letter-spacing:0.4px;">10 days ago</div>
<svg class="a ic" style="left:1367px;top:499.8px;width:16px;height:10.5px;" viewBox="0 0 16 10.5" ><path d="M0.5 1.2 Q4 0.2 8 1 T15.5 0.8 V9.2 Q12 10.2 8 9.4 T0.5 9.6Z" fill="#1f3d94"/><g fill="#f4d23a" opacity="0.55"><circle cx="8" cy="3" r=".5"/><circle cx="10" cy="5.2" r=".5"/><circle cx="8" cy="7.4" r=".5"/><circle cx="6" cy="5.2" r=".5"/></g></svg>
<div class="t " style="left:1388.3px;top:496.80px;font-size:13px;line-height:18px;-webkit-text-stroke:0.2px;color:#48475f;letter-spacing:0.6px;">Europe · Every 2 min</div>
<div class="a" style="left:1366px;top:520.0px;width:20px;height:20px;border-radius:4px;background:#fde9eb"></div>
<svg class="a ic" style="left:1369.5px;top:523.5px;width:13px;height:13px;color:#dc2433;" viewBox="0 0 24 24" stroke-width="2.2" ><path d="M9 15l6-6"/><path d="M11 6l.463-.536a5 5 0 0 1 7.071 7.072l-.534.464"/><path d="M13 18l-.397.534a5.068 5.068 0 0 1-7.127 0a4.972 4.972 0 0 1 0-7.071l.524-.463"/></svg>
<div class="t " style="left:1394.6px;top:520.15px;font-size:14px;line-height:20px;-webkit-text-stroke:0.2px;color:#48475f;letter-spacing:0.35px;">Link checker</div>
<svg class="a ic" style="left:1603.1px;top:510.2px;width:15.4px;height:15.4px;color:#1c1b2e;" viewBox="0 0 24 24" ><path fill="currentColor" stroke="none" d="M21.469 6.825c.84 1.537 1.318 3.3 1.318 5.175 0 3.979-2.156 7.456-5.363 9.325l3.295-9.527c.615-1.54.82-2.771.82-3.864 0-.405-.026-.78-.07-1.11m-7.981.105c.647-.03 1.232-.105 1.232-.105.582-.075.514-.93-.067-.899 0 0-1.755.135-2.88.135-1.064 0-2.85-.15-2.85-.15-.585-.03-.661.855-.075.885 0 0 .54.061 1.125.09l1.68 4.605-2.37 7.08L5.354 6.9c.649-.03 1.234-.1 1.234-.1.585-.075.516-.93-.065-.896 0 0-1.746.138-2.874.138-.2 0-.438-.008-.69-.015C4.911 3.15 8.235 1.215 12 1.215c2.809 0 5.365 1.072 7.286 2.833-.046-.003-.091-.009-.141-.009-1.06 0-1.812.923-1.812 1.914 0 .89.513 1.643 1.06 2.531.411.72.89 1.643.89 2.977 0 .915-.354 1.994-.821 3.479l-1.075 3.585-3.9-11.61.001.014zM12 22.784c-1.059 0-2.081-.153-3.048-.437l3.237-9.406 3.315 9.087c.024.053.05.101.078.149-1.12.393-2.325.609-3.582.609M1.211 12c0-1.564.336-3.05.935-4.39L7.29 21.709C3.694 19.96 1.212 16.271 1.211 12M12 0C5.385 0 0 5.385 0 12s5.385 12 12 12 12-5.385 12-12S18.615 0 12 0"/></svg>
<div class="t " style="left:1627.7px;top:507.65px;font-size:14px;line-height:20px;font-weight:700;color:#1a1a2e;">Admin</div>
<svg class="a ic" style="left:1678px;top:510.8px;width:14.4px;height:14.4px;color:#1c1b2e;" viewBox="0 0 24 24" stroke-width="2.1" ><path d="M12 6h-6a2 2 0 0 0-2 2v10a2 2 0 0 0 2 2h10a2 2 0 0 0 2-2v-6"/><path d="M11 13l9-9"/><path d="M15 4h5v5"/></svg>
<div class="hr" style="left:267px;top:659px;width:1455px;background:#ececf2"></div>
<div class="cb" style="left:283px;top:601px"></div>
<div class="a" style="left:315px;top:596.5px;width:24px;height:24px;border-radius:50%;background:#dffce7"></div>
<svg class="a ic" style="left:319.2px;top:601.0px;width:16px;height:16px;color:#23843c;" viewBox="0 0 24 24" stroke-width="2.7" ><path d="M3 17l6-6l4 4l8-8"/><path d="M14 7h7v7"/></svg>
<div class="a" style="left:347px;top:593.5px;width:30px;height:30px;border-radius:5px;background:#fff"></div>
<svg class="a" style="left:348px;top:594.9px;width:28px;height:28px" viewBox="-1 -1 28 28"><circle cx="13.1" cy="12.9" r="11.7" fill="#fff" stroke="#5a66ac" stroke-opacity="0.35" stroke-width="4.2"/><circle cx="13.1" cy="12.9" r="11.7" fill="none" stroke="#4f5ca6" stroke-opacity="0.9" stroke-width="2.2"/><g fill="#a3acd3" stroke="#a3acd3" stroke-width="1.2" stroke-opacity="0.45" stroke-linejoin="round"><path d="M6.2 5.6 C8 4 11 3.6 14.2 4.4 L13.6 6.8 L11.8 8.4 L12.6 10.6 L10.8 12.6 L10.2 14.8 L8.6 13.8 L7.2 11 L6.2 8Z"/><path d="M17.6 5.8 L20.6 7.4 L22.3 10.6 L22.4 14.4 L20.6 15.4 L18.8 14.2 L18.2 11.6 L17.4 9.2Z" fill="#b6bedf" stroke="#b6bedf"/><path d="M10.9 15.2 L14.8 14.9 L17.8 16.8 L17.4 20 L15.4 22.8 L13.6 23.2 L12.8 20.6 L11.5 18Z"/><path d="M11 3.9 L14 3.7 L13.5 5.2 L11.4 5.4Z" stroke="none"/></g></svg>
<div class="t " style="left:401.5px;top:590.65px;font-size:14px;line-height:20px;font-weight:700;color:#3d3b5c;">Aurelio volle Site</div>
<div class="t " style="left:401.5px;top:609.65px;font-size:14px;line-height:20px;-webkit-text-stroke:0.2px;color:#1b2140;letter-spacing:0.48px;">wpumbrella.wpengine.com/<svg class="ic" style="position:relative;display:inline-block;vertical-align:top;margin-top:2.6px;margin-left:9.4px;width:15.5px;height:15.5px;color:#1b2140" viewBox="0 0 24 24" stroke-width="2.1"><path d="M12 6h-6a2 2 0 0 0-2 2v10a2 2 0 0 0 2 2h10a2 2 0 0 0 2-2v-6"/><path d="M11 13l9-9"/><path d="M15 4h5v5"/></svg></div>
<div class="a" style="left:655px;top:597.0px;height:20px;display:flex;align-items:center;font-weight:700;font-size:14px;letter-spacing:0.8px;white-space:nowrap"><svg style="width:18px;height:18px;flex:none" viewBox="0 0 48 48"><path fill="#EA4335" d="M24 9.5c3.54 0 6.71 1.22 9.21 3.6l6.85-6.85C35.9 2.38 30.47 0 24 0 14.62 0 6.51 5.38 2.56 13.22l7.98 6.19C12.43 13.72 17.74 9.5 24 9.5z"/><path fill="#4285F4" d="M46.98 24.55c0-1.57-.15-3.09-.38-4.55H24v9.02h12.94c-.58 2.96-2.26 5.48-4.78 7.18l7.73 6c4.51-4.18 7.09-10.36 7.09-17.65z"/><path fill="#FBBC05" d="M10.53 28.59c-.48-1.45-.76-2.99-.76-4.59s.27-3.14.76-4.59l-7.98-6.19C.92 16.46 0 20.12 0 24c0 3.88.92 7.54 2.56 10.78l7.97-6.19z"/><path fill="#34A853" d="M24 48c6.48 0 11.93-2.13 15.89-5.81l-7.73-6c-2.15 1.45-4.92 2.3-8.16 2.3-6.26 0-11.57-4.22-13.47-9.91l-7.98 6.19C6.51 42.62 14.62 48 24 48z"/></svg><span style="width:8.5px"></span><span style="width:1px;height:16px;background:#dde1ea;flex:none"></span><span style="width:7.1px"></span><svg class="ic" style="width:17px;height:17px;color:#1a1b2b;flex:none;position:relative;top:-0.6px;left:-0.4px" viewBox="0 0 24 24" stroke-width="2.3"><rect x="3" y="3.6" width="18" height="12.6" rx="2"/><path d="M12 16.2v3.6M8.6 20.2h6.8"/></svg><span style="width:4.1px"></span><span style="color:#2a8a47;line-height:20px;position:relative;top:-0.4px">100</span><span style="width:8px"></span><span style="width:1px;height:16px;background:#dde1ea;flex:none"></span><span style="width:6.7px"></span><svg class="ic" style="width:17px;height:17px;color:#1a1b2b;flex:none;position:relative;top:-0.6px" viewBox="0 0 24 24" stroke-width="2.3"><rect x="4.6" y="2.8" width="14.8" height="18.4" rx="2.4"/><rect x="11.2" y="16.2" width="1.6" height="1.6" fill="currentColor" stroke="none"/></svg><span style="width:4.7px"></span><span style="color:#2a8a47;line-height:20px;position:relative;top:-0.4px">100</span></div>
<div class="badge uptb" data-t="100%" style="left:833px;top:594.5px;height:28px;background:#dffce7;color:#268a40;font-size:14px;line-height:28px;padding:0 7px;letter-spacing:0.2px;white-space:nowrap;-webkit-text-stroke:0.25px">100%</div>
<div class="t " style="left:1010.5px;top:598.65px;font-size:14px;line-height:20px;-webkit-text-stroke:0.2px;color:#48475f;letter-spacing:0.4px;">WP Engine</div>
<div class="t " style="left:1188.5px;top:598.65px;font-size:14px;line-height:20px;-webkit-text-stroke:0.2px;color:#48475f;letter-spacing:0.4px;">about 1 month ago</div>
<svg class="a ic" style="left:1367px;top:581.4px;width:16px;height:10.5px;" viewBox="0 0 16 10.5" ><path d="M0.5 1.2 Q4 0.2 8 1 T15.5 0.8 V9.2 Q12 10.2 8 9.4 T0.5 9.6Z" fill="#1f3d94"/><g fill="#f4d23a" opacity="0.55"><circle cx="8" cy="3" r=".5"/><circle cx="10" cy="5.2" r=".5"/><circle cx="8" cy="7.4" r=".5"/><circle cx="6" cy="5.2" r=".5"/></g></svg>
<div class="t " style="left:1388.3px;top:578.40px;font-size:13px;line-height:18px;-webkit-text-stroke:0.2px;color:#48475f;letter-spacing:0.6px;">Europe · Every 30</div>
<div class="t " style="left:1366.5px;top:598.40px;font-size:13px;line-height:18px;-webkit-text-stroke:0.2px;color:#48475f;letter-spacing:0.6px;">min</div>
<div class="a" style="left:1366px;top:620.9px;width:20px;height:20px;border-radius:4px;background:#fde9eb"></div>
<svg class="a ic" style="left:1369.5px;top:624.4px;width:13px;height:13px;color:#dc2433;" viewBox="0 0 24 24" stroke-width="2.2" ><path d="M9 15l6-6"/><path d="M11 6l.463-.536a5 5 0 0 1 7.071 7.072l-.534.464"/><path d="M13 18l-.397.534a5.068 5.068 0 0 1-7.127 0a4.972 4.972 0 0 1 0-7.071l.524-.463"/></svg>
<div class="t " style="left:1394.6px;top:621.05px;font-size:14px;line-height:20px;-webkit-text-stroke:0.2px;color:#48475f;letter-spacing:0.35px;">Link checker</div>
<svg class="a ic" style="left:1603.1px;top:601.2px;width:15.4px;height:15.4px;color:#1c1b2e;" viewBox="0 0 24 24" ><path fill="currentColor" stroke="none" d="M21.469 6.825c.84 1.537 1.318 3.3 1.318 5.175 0 3.979-2.156 7.456-5.363 9.325l3.295-9.527c.615-1.54.82-2.771.82-3.864 0-.405-.026-.78-.07-1.11m-7.981.105c.647-.03 1.232-.105 1.232-.105.582-.075.514-.93-.067-.899 0 0-1.755.135-2.88.135-1.064 0-2.85-.15-2.85-.15-.585-.03-.661.855-.075.885 0 0 .54.061 1.125.09l1.68 4.605-2.37 7.08L5.354 6.9c.649-.03 1.234-.1 1.234-.1.585-.075.516-.93-.065-.896 0 0-1.746.138-2.874.138-.2 0-.438-.008-.69-.015C4.911 3.15 8.235 1.215 12 1.215c2.809 0 5.365 1.072 7.286 2.833-.046-.003-.091-.009-.141-.009-1.06 0-1.812.923-1.812 1.914 0 .89.513 1.643 1.06 2.531.411.72.89 1.643.89 2.977 0 .915-.354 1.994-.821 3.479l-1.075 3.585-3.9-11.61.001.014zM12 22.784c-1.059 0-2.081-.153-3.048-.437l3.237-9.406 3.315 9.087c.024.053.05.101.078.149-1.12.393-2.325.609-3.582.609M1.211 12c0-1.564.336-3.05.935-4.39L7.29 21.709C3.694 19.96 1.212 16.271 1.211 12M12 0C5.385 0 0 5.385 0 12s5.385 12 12 12 12-5.385 12-12S18.615 0 12 0"/></svg>
<div class="t " style="left:1627.7px;top:598.65px;font-size:14px;line-height:20px;font-weight:700;color:#1a1a2e;">Admin</div>
<svg class="a ic" style="left:1678px;top:601.8px;width:14.4px;height:14.4px;color:#1c1b2e;" viewBox="0 0 24 24" stroke-width="2.1" ><path d="M12 6h-6a2 2 0 0 0-2 2v10a2 2 0 0 0 2 2h10a2 2 0 0 0 2-2v-6"/><path d="M11 13l9-9"/><path d="M15 4h5v5"/></svg>
<div class="hr" style="left:267px;top:740px;width:1455px;background:#ececf2"></div>
<div class="cb" style="left:283px;top:692px"></div>
<div class="a" style="left:315px;top:687.5px;width:24px;height:24px;border-radius:50%;background:#feebee"></div>
<svg class="a ic" style="left:319.2px;top:691.9px;width:16px;height:16px;color:#d3202d;" viewBox="0 0 24 24" stroke-width="2.5" ><path d="M3 7l6 6l4-4l8 8"/><path d="M21 10v7h-7"/></svg>
<div class="a" style="left:347px;top:684.5px;width:30px;height:30px;border-radius:5px;background:#fff"></div>
<svg class="a" style="left:348px;top:685.9px;width:28px;height:28px" viewBox="-1 -1 28 28"><circle cx="13.1" cy="12.9" r="11.7" fill="#fff" stroke="#5a66ac" stroke-opacity="0.35" stroke-width="4.2"/><circle cx="13.1" cy="12.9" r="11.7" fill="none" stroke="#4f5ca6" stroke-opacity="0.9" stroke-width="2.2"/><g fill="#a3acd3" stroke="#a3acd3" stroke-width="1.2" stroke-opacity="0.45" stroke-linejoin="round"><path d="M6.2 5.6 C8 4 11 3.6 14.2 4.4 L13.6 6.8 L11.8 8.4 L12.6 10.6 L10.8 12.6 L10.2 14.8 L8.6 13.8 L7.2 11 L6.2 8Z"/><path d="M17.6 5.8 L20.6 7.4 L22.3 10.6 L22.4 14.4 L20.6 15.4 L18.8 14.2 L18.2 11.6 L17.4 9.2Z" fill="#b6bedf" stroke="#b6bedf"/><path d="M10.9 15.2 L14.8 14.9 L17.8 16.8 L17.4 20 L15.4 22.8 L13.6 23.2 L12.8 20.6 L11.5 18Z"/><path d="M11 3.9 L14 3.7 L13.5 5.2 L11.4 5.4Z" stroke="none"/></g></svg>
<div class="t " style="left:401.5px;top:681.65px;font-size:14px;line-height:20px;font-weight:700;color:#3d3b5c;">Demo Umbrella</div>
<div class="t " style="left:401.5px;top:700.65px;font-size:14px;line-height:20px;-webkit-text-stroke:0.2px;color:#1b2140;letter-spacing:0.48px;">umbrella.wpprovider.nl/<svg class="ic" style="position:relative;display:inline-block;vertical-align:top;margin-top:2.6px;margin-left:9.4px;width:15.5px;height:15.5px;color:#1b2140" viewBox="0 0 24 24" stroke-width="2.1"><path d="M12 6h-6a2 2 0 0 0-2 2v10a2 2 0 0 0 2 2h10a2 2 0 0 0 2-2v-6"/><path d="M11 13l9-9"/><path d="M15 4h5v5"/></svg></div>
<div class="a" style="left:655px;top:688.0px;height:20px;display:flex;align-items:center;font-weight:700;font-size:14px;letter-spacing:0.8px;white-space:nowrap"><svg style="width:18px;height:18px;flex:none" viewBox="0 0 48 48"><path fill="#EA4335" d="M24 9.5c3.54 0 6.71 1.22 9.21 3.6l6.85-6.85C35.9 2.38 30.47 0 24 0 14.62 0 6.51 5.38 2.56 13.22l7.98 6.19C12.43 13.72 17.74 9.5 24 9.5z"/><path fill="#4285F4" d="M46.98 24.55c0-1.57-.15-3.09-.38-4.55H24v9.02h12.94c-.58 2.96-2.26 5.48-4.78 7.18l7.73 6c4.51-4.18 7.09-10.36 7.09-17.65z"/><path fill="#FBBC05" d="M10.53 28.59c-.48-1.45-.76-2.99-.76-4.59s.27-3.14.76-4.59l-7.98-6.19C.92 16.46 0 20.12 0 24c0 3.88.92 7.54 2.56 10.78l7.97-6.19z"/><path fill="#34A853" d="M24 48c6.48 0 11.93-2.13 15.89-5.81l-7.73-6c-2.15 1.45-4.92 2.3-8.16 2.3-6.26 0-11.57-4.22-13.47-9.91l-7.98 6.19C6.51 42.62 14.62 48 24 48z"/></svg><span style="width:8.5px"></span><span style="width:1px;height:16px;background:#dde1ea;flex:none"></span><span style="width:7.1px"></span><svg class="ic" style="width:17px;height:17px;color:#1a1b2b;flex:none;position:relative;top:-0.6px;left:-0.4px" viewBox="0 0 24 24" stroke-width="2.3"><rect x="3" y="3.6" width="18" height="12.6" rx="2"/><path d="M12 16.2v3.6M8.6 20.2h6.8"/></svg><span style="width:4.1px"></span><span style="color:#2a8a47;line-height:20px;position:relative;top:-0.4px">100</span><span style="width:8px"></span><span style="width:1px;height:16px;background:#dde1ea;flex:none"></span><span style="width:6.7px"></span><svg class="ic" style="width:17px;height:17px;color:#1a1b2b;flex:none;position:relative;top:-0.6px" viewBox="0 0 24 24" stroke-width="2.3"><rect x="4.6" y="2.8" width="14.8" height="18.4" rx="2.4"/><rect x="11.2" y="16.2" width="1.6" height="1.6" fill="currentColor" stroke="none"/></svg><span style="width:4.7px"></span><span style="color:#2a8a47;line-height:20px;position:relative;top:-0.4px">100</span></div>
<div class="badge uptb" data-t="0%" style="left:833px;top:685.5px;height:28px;background:#fde9eb;color:#d9283a;font-size:14px;line-height:28px;padding:0 7px;letter-spacing:0.2px;white-space:nowrap;-webkit-text-stroke:0.25px">0%</div>
<div class="t " style="left:1010.5px;top:689.65px;font-size:14px;line-height:20px;-webkit-text-stroke:0.2px;color:#48475f;letter-spacing:0.4px;">—</div>
<div class="t " style="left:1188.5px;top:689.65px;font-size:14px;line-height:20px;-webkit-text-stroke:0.2px;color:#48475f;letter-spacing:0.4px;">4 days ago</div>
<svg class="a ic" style="left:1367px;top:681.8px;width:16px;height:10.5px;" viewBox="0 0 16 10.5" ><path d="M0.5 1.2 Q4 0.2 8 1 T15.5 0.8 V9.2 Q12 10.2 8 9.4 T0.5 9.6Z" fill="#1f3d94"/><g fill="#f4d23a" opacity="0.55"><circle cx="8" cy="3" r=".5"/><circle cx="10" cy="5.2" r=".5"/><circle cx="8" cy="7.4" r=".5"/><circle cx="6" cy="5.2" r=".5"/></g></svg>
<div class="t " style="left:1388.3px;top:678.80px;font-size:13px;line-height:18px;-webkit-text-stroke:0.2px;color:#48475f;letter-spacing:0.6px;">Europe · Every 2 min</div>
<div class="a" style="left:1366px;top:702.0px;width:20px;height:20px;border-radius:4px;background:#fde9eb"></div>
<svg class="a ic" style="left:1369.5px;top:705.5px;width:13px;height:13px;color:#dc2433;" viewBox="0 0 24 24" stroke-width="2.2" ><path d="M9 15l6-6"/><path d="M11 6l.463-.536a5 5 0 0 1 7.071 7.072l-.534.464"/><path d="M13 18l-.397.534a5.068 5.068 0 0 1-7.127 0a4.972 4.972 0 0 1 0-7.071l.524-.463"/></svg>
<div class="t " style="left:1394.6px;top:702.15px;font-size:14px;line-height:20px;-webkit-text-stroke:0.2px;color:#48475f;letter-spacing:0.35px;">Link checker</div>
<svg class="a ic" style="left:1603.1px;top:692.2px;width:15.4px;height:15.4px;color:#1c1b2e;" viewBox="0 0 24 24" ><path fill="currentColor" stroke="none" d="M21.469 6.825c.84 1.537 1.318 3.3 1.318 5.175 0 3.979-2.156 7.456-5.363 9.325l3.295-9.527c.615-1.54.82-2.771.82-3.864 0-.405-.026-.78-.07-1.11m-7.981.105c.647-.03 1.232-.105 1.232-.105.582-.075.514-.93-.067-.899 0 0-1.755.135-2.88.135-1.064 0-2.85-.15-2.85-.15-.585-.03-.661.855-.075.885 0 0 .54.061 1.125.09l1.68 4.605-2.37 7.08L5.354 6.9c.649-.03 1.234-.1 1.234-.1.585-.075.516-.93-.065-.896 0 0-1.746.138-2.874.138-.2 0-.438-.008-.69-.015C4.911 3.15 8.235 1.215 12 1.215c2.809 0 5.365 1.072 7.286 2.833-.046-.003-.091-.009-.141-.009-1.06 0-1.812.923-1.812 1.914 0 .89.513 1.643 1.06 2.531.411.72.89 1.643.89 2.977 0 .915-.354 1.994-.821 3.479l-1.075 3.585-3.9-11.61.001.014zM12 22.784c-1.059 0-2.081-.153-3.048-.437l3.237-9.406 3.315 9.087c.024.053.05.101.078.149-1.12.393-2.325.609-3.582.609M1.211 12c0-1.564.336-3.05.935-4.39L7.29 21.709C3.694 19.96 1.212 16.271 1.211 12M12 0C5.385 0 0 5.385 0 12s5.385 12 12 12 12-5.385 12-12S18.615 0 12 0"/></svg>
<div class="t " style="left:1627.7px;top:689.65px;font-size:14px;line-height:20px;font-weight:700;color:#1a1a2e;">Admin</div>
<svg class="a ic" style="left:1678px;top:692.8px;width:14.4px;height:14.4px;color:#1c1b2e;" viewBox="0 0 24 24" stroke-width="2.1" ><path d="M12 6h-6a2 2 0 0 0-2 2v10a2 2 0 0 0 2 2h10a2 2 0 0 0 2-2v-6"/><path d="M11 13l9-9"/><path d="M15 4h5v5"/></svg>
<div class="hr" style="left:267px;top:841px;width:1455px;background:#ececf2"></div>
<div class="cb" style="left:283px;top:783px"></div>
<div class="a" style="left:315px;top:778.5px;width:24px;height:24px;border-radius:50%;background:#dffce7"></div>
<svg class="a ic" style="left:319.2px;top:783.0px;width:16px;height:16px;color:#23843c;" viewBox="0 0 24 24" stroke-width="2.7" ><path d="M3 17l6-6l4 4l8-8"/><path d="M14 7h7v7"/></svg>
<div class="a" style="left:347px;top:775.5px;width:30px;height:30px;border-radius:5px;background:#fff"></div>
<svg class="a" style="left:348px;top:776.9px;width:28px;height:28px" viewBox="-1 -1 28 28"><circle cx="13.1" cy="12.9" r="11.7" fill="#fff" stroke="#5a66ac" stroke-opacity="0.35" stroke-width="4.2"/><circle cx="13.1" cy="12.9" r="11.7" fill="none" stroke="#4f5ca6" stroke-opacity="0.9" stroke-width="2.2"/><g fill="#a3acd3" stroke="#a3acd3" stroke-width="1.2" stroke-opacity="0.45" stroke-linejoin="round"><path d="M6.2 5.6 C8 4 11 3.6 14.2 4.4 L13.6 6.8 L11.8 8.4 L12.6 10.6 L10.8 12.6 L10.2 14.8 L8.6 13.8 L7.2 11 L6.2 8Z"/><path d="M17.6 5.8 L20.6 7.4 L22.3 10.6 L22.4 14.4 L20.6 15.4 L18.8 14.2 L18.2 11.6 L17.4 9.2Z" fill="#b6bedf" stroke="#b6bedf"/><path d="M10.9 15.2 L14.8 14.9 L17.8 16.8 L17.4 20 L15.4 22.8 L13.6 23.2 L12.8 20.6 L11.5 18Z"/><path d="M11 3.9 L14 3.7 L13.5 5.2 L11.4 5.4Z" stroke="none"/></g></svg>
<div class="t " style="left:401.5px;top:772.65px;font-size:14px;line-height:20px;font-weight:700;color:#3d3b5c;">My Blog</div>
<div class="t " style="left:401.5px;top:791.65px;font-size:14px;line-height:20px;-webkit-text-stroke:0.2px;color:#1b2140;letter-spacing:0.48px;">cyrille.boriszarev.com/<svg class="ic" style="position:relative;display:inline-block;vertical-align:top;margin-top:2.6px;margin-left:9.4px;width:15.5px;height:15.5px;color:#1b2140" viewBox="0 0 24 24" stroke-width="2.1"><path d="M12 6h-6a2 2 0 0 0-2 2v10a2 2 0 0 0 2 2h10a2 2 0 0 0 2-2v-6"/><path d="M11 13l9-9"/><path d="M15 4h5v5"/></svg></div>
<div class="a" style="left:655px;top:779.0px;height:20px;display:flex;align-items:center;font-weight:700;font-size:14px;letter-spacing:0.8px;white-space:nowrap"><svg style="width:18px;height:18px;flex:none" viewBox="0 0 48 48"><path fill="#EA4335" d="M24 9.5c3.54 0 6.71 1.22 9.21 3.6l6.85-6.85C35.9 2.38 30.47 0 24 0 14.62 0 6.51 5.38 2.56 13.22l7.98 6.19C12.43 13.72 17.74 9.5 24 9.5z"/><path fill="#4285F4" d="M46.98 24.55c0-1.57-.15-3.09-.38-4.55H24v9.02h12.94c-.58 2.96-2.26 5.48-4.78 7.18l7.73 6c4.51-4.18 7.09-10.36 7.09-17.65z"/><path fill="#FBBC05" d="M10.53 28.59c-.48-1.45-.76-2.99-.76-4.59s.27-3.14.76-4.59l-7.98-6.19C.92 16.46 0 20.12 0 24c0 3.88.92 7.54 2.56 10.78l7.97-6.19z"/><path fill="#34A853" d="M24 48c6.48 0 11.93-2.13 15.89-5.81l-7.73-6c-2.15 1.45-4.92 2.3-8.16 2.3-6.26 0-11.57-4.22-13.47-9.91l-7.98 6.19C6.51 42.62 14.62 48 24 48z"/></svg><span style="width:8.5px"></span><span style="width:1px;height:16px;background:#dde1ea;flex:none"></span><span style="width:7.1px"></span><svg class="ic" style="width:17px;height:17px;color:#1a1b2b;flex:none;position:relative;top:-0.6px;left:-0.4px" viewBox="0 0 24 24" stroke-width="2.3"><rect x="3" y="3.6" width="18" height="12.6" rx="2"/><path d="M12 16.2v3.6M8.6 20.2h6.8"/></svg><span style="width:4.1px"></span><span style="color:#2a8a47;line-height:20px;position:relative;top:-0.4px">100</span><span style="width:8px"></span><span style="width:1px;height:16px;background:#dde1ea;flex:none"></span><span style="width:6.7px"></span><svg class="ic" style="width:17px;height:17px;color:#1a1b2b;flex:none;position:relative;top:-0.6px" viewBox="0 0 24 24" stroke-width="2.3"><rect x="4.6" y="2.8" width="14.8" height="18.4" rx="2.4"/><rect x="11.2" y="16.2" width="1.6" height="1.6" fill="currentColor" stroke="none"/></svg><span style="width:4.7px"></span><span style="color:#2a8a47;line-height:20px;position:relative;top:-0.4px">96</span></div>
<div class="badge uptb" data-t="53.33%" style="left:833px;top:776.5px;height:28px;background:#fde9eb;color:#d9283a;font-size:14px;line-height:28px;padding:0 7px;letter-spacing:0.2px;white-space:nowrap;-webkit-text-stroke:0.25px">53.33%</div>
<div class="t " style="left:1010.5px;top:780.65px;font-size:14px;line-height:20px;-webkit-text-stroke:0.2px;color:#48475f;letter-spacing:0.4px;">—</div>
<div class="t " style="left:1188.5px;top:780.65px;font-size:14px;line-height:20px;-webkit-text-stroke:0.2px;color:#48475f;letter-spacing:0.4px;">20 days ago</div>
<svg class="a ic" style="left:1367px;top:763.4px;width:16px;height:10.5px;" viewBox="0 0 16 10.5" ><path d="M0.5 1.2 Q4 0.2 8 1 T15.5 0.8 V9.2 Q12 10.2 8 9.4 T0.5 9.6Z" fill="#1f3d94"/><g fill="#f4d23a" opacity="0.55"><circle cx="8" cy="3" r=".5"/><circle cx="10" cy="5.2" r=".5"/><circle cx="8" cy="7.4" r=".5"/><circle cx="6" cy="5.2" r=".5"/></g></svg>
<div class="t " style="left:1388.3px;top:760.40px;font-size:13px;line-height:18px;-webkit-text-stroke:0.2px;color:#48475f;letter-spacing:0.6px;">Europe · Every 30</div>
<div class="t " style="left:1366.5px;top:780.40px;font-size:13px;line-height:18px;-webkit-text-stroke:0.2px;color:#48475f;letter-spacing:0.6px;">min</div>
<div class="a" style="left:1366px;top:802.9px;width:20px;height:20px;border-radius:4px;background:#fde9eb"></div>
<svg class="a ic" style="left:1369.5px;top:806.4px;width:13px;height:13px;color:#dc2433;" viewBox="0 0 24 24" stroke-width="2.2" ><path d="M9 15l6-6"/><path d="M11 6l.463-.536a5 5 0 0 1 7.071 7.072l-.534.464"/><path d="M13 18l-.397.534a5.068 5.068 0 0 1-7.127 0a4.972 4.972 0 0 1 0-7.071l.524-.463"/></svg>
<div class="t " style="left:1394.6px;top:803.05px;font-size:14px;line-height:20px;-webkit-text-stroke:0.2px;color:#48475f;letter-spacing:0.35px;">Link checker</div>
<svg class="a ic" style="left:1603.1px;top:783.2px;width:15.4px;height:15.4px;color:#1c1b2e;" viewBox="0 0 24 24" ><path fill="currentColor" stroke="none" d="M21.469 6.825c.84 1.537 1.318 3.3 1.318 5.175 0 3.979-2.156 7.456-5.363 9.325l3.295-9.527c.615-1.54.82-2.771.82-3.864 0-.405-.026-.78-.07-1.11m-7.981.105c.647-.03 1.232-.105 1.232-.105.582-.075.514-.93-.067-.899 0 0-1.755.135-2.88.135-1.064 0-2.85-.15-2.85-.15-.585-.03-.661.855-.075.885 0 0 .54.061 1.125.09l1.68 4.605-2.37 7.08L5.354 6.9c.649-.03 1.234-.1 1.234-.1.585-.075.516-.93-.065-.896 0 0-1.746.138-2.874.138-.2 0-.438-.008-.69-.015C4.911 3.15 8.235 1.215 12 1.215c2.809 0 5.365 1.072 7.286 2.833-.046-.003-.091-.009-.141-.009-1.06 0-1.812.923-1.812 1.914 0 .89.513 1.643 1.06 2.531.411.72.89 1.643.89 2.977 0 .915-.354 1.994-.821 3.479l-1.075 3.585-3.9-11.61.001.014zM12 22.784c-1.059 0-2.081-.153-3.048-.437l3.237-9.406 3.315 9.087c.024.053.05.101.078.149-1.12.393-2.325.609-3.582.609M1.211 12c0-1.564.336-3.05.935-4.39L7.29 21.709C3.694 19.96 1.212 16.271 1.211 12M12 0C5.385 0 0 5.385 0 12s5.385 12 12 12 12-5.385 12-12S18.615 0 12 0"/></svg>
<div class="t " style="left:1627.7px;top:780.65px;font-size:14px;line-height:20px;font-weight:700;color:#1a1a2e;">Admin</div>
<svg class="a ic" style="left:1678px;top:783.8px;width:14.4px;height:14.4px;color:#1c1b2e;" viewBox="0 0 24 24" stroke-width="2.1" ><path d="M12 6h-6a2 2 0 0 0-2 2v10a2 2 0 0 0 2 2h10a2 2 0 0 0 2-2v-6"/><path d="M11 13l9-9"/><path d="M15 4h5v5"/></svg>
<div class="a" style="left:267px;top:841px;width:1455px;height:102px;background:#f3f3fc"></div>
<div class="a" style="left:283px;top:884px;width:16px;height:16px;border-radius:3px;background:#3d2bde"></div>
<svg class="a ic" style="left:283px;top:884px;width:16px;height:16px;color:#fff;" viewBox="0 0 16 16" stroke-width="2.2" ><path d="M4 8.3l2.7 2.7 5.3-5.6"/></svg>
<div class="a" style="left:315px;top:879.5px;width:24px;height:24px;border-radius:50%;background:#dffce7"></div>
<svg class="a ic" style="left:319.2px;top:884.0px;width:16px;height:16px;color:#23843c;" viewBox="0 0 24 24" stroke-width="2.7" ><path d="M3 17l6-6l4 4l8-8"/><path d="M14 7h7v7"/></svg>
<div class="a" style="left:347px;top:876.5px;width:30px;height:30px;border-radius:5px;background:#fff"></div>
<svg class="a" style="left:348px;top:877.9px;width:28px;height:28px" viewBox="-1 -1 28 28"><circle cx="13.1" cy="12.9" r="11.7" fill="#fff" stroke="#5a66ac" stroke-opacity="0.35" stroke-width="4.2"/><circle cx="13.1" cy="12.9" r="11.7" fill="none" stroke="#4f5ca6" stroke-opacity="0.9" stroke-width="2.2"/><g fill="#a3acd3" stroke="#a3acd3" stroke-width="1.2" stroke-opacity="0.45" stroke-linejoin="round"><path d="M6.2 5.6 C8 4 11 3.6 14.2 4.4 L13.6 6.8 L11.8 8.4 L12.6 10.6 L10.8 12.6 L10.2 14.8 L8.6 13.8 L7.2 11 L6.2 8Z"/><path d="M17.6 5.8 L20.6 7.4 L22.3 10.6 L22.4 14.4 L20.6 15.4 L18.8 14.2 L18.2 11.6 L17.4 9.2Z" fill="#b6bedf" stroke="#b6bedf"/><path d="M10.9 15.2 L14.8 14.9 L17.8 16.8 L17.4 20 L15.4 22.8 L13.6 23.2 L12.8 20.6 L11.5 18Z"/><path d="M11 3.9 L14 3.7 L13.5 5.2 L11.4 5.4Z" stroke="none"/></g></svg>
<div class="t " style="left:401.5px;top:873.65px;font-size:14px;line-height:20px;font-weight:700;color:#3d3b5c;">Rocket.net Testing Environment</div>
<div class="t " style="left:401.5px;top:892.65px;font-size:14px;line-height:20px;-webkit-text-stroke:0.2px;color:#1b2140;letter-spacing:0.48px;">rxuvzhyvtq.onrocket.site/<svg class="ic" style="position:relative;display:inline-block;vertical-align:top;margin-top:2.6px;margin-left:9.4px;width:15.5px;height:15.5px;color:#1b2140" viewBox="0 0 24 24" stroke-width="2.1"><path d="M12 6h-6a2 2 0 0 0-2 2v10a2 2 0 0 0 2 2h10a2 2 0 0 0 2-2v-6"/><path d="M11 13l9-9"/><path d="M15 4h5v5"/></svg></div>
<div class="a" style="left:655px;top:880.0px;height:20px;display:flex;align-items:center;font-weight:700;font-size:14px;letter-spacing:0.8px;white-space:nowrap"><svg style="width:18px;height:18px;flex:none" viewBox="0 0 48 48"><path fill="#EA4335" d="M24 9.5c3.54 0 6.71 1.22 9.21 3.6l6.85-6.85C35.9 2.38 30.47 0 24 0 14.62 0 6.51 5.38 2.56 13.22l7.98 6.19C12.43 13.72 17.74 9.5 24 9.5z"/><path fill="#4285F4" d="M46.98 24.55c0-1.57-.15-3.09-.38-4.55H24v9.02h12.94c-.58 2.96-2.26 5.48-4.78 7.18l7.73 6c4.51-4.18 7.09-10.36 7.09-17.65z"/><path fill="#FBBC05" d="M10.53 28.59c-.48-1.45-.76-2.99-.76-4.59s.27-3.14.76-4.59l-7.98-6.19C.92 16.46 0 20.12 0 24c0 3.88.92 7.54 2.56 10.78l7.97-6.19z"/><path fill="#34A853" d="M24 48c6.48 0 11.93-2.13 15.89-5.81l-7.73-6c-2.15 1.45-4.92 2.3-8.16 2.3-6.26 0-11.57-4.22-13.47-9.91l-7.98 6.19C6.51 42.62 14.62 48 24 48z"/></svg><span style="width:8.5px"></span><span style="width:1px;height:16px;background:#dde1ea;flex:none"></span><span style="width:7.1px"></span><svg class="ic" style="width:17px;height:17px;color:#1a1b2b;flex:none;position:relative;top:-0.6px;left:-0.4px" viewBox="0 0 24 24" stroke-width="2.3"><rect x="3" y="3.6" width="18" height="12.6" rx="2"/><path d="M12 16.2v3.6M8.6 20.2h6.8"/></svg><span style="width:4.1px"></span><span style="color:#2a8a47;line-height:20px;position:relative;top:-0.4px">100</span><span style="width:8px"></span><span style="width:1px;height:16px;background:#dde1ea;flex:none"></span><span style="width:6.7px"></span><svg class="ic" style="width:17px;height:17px;color:#1a1b2b;flex:none;position:relative;top:-0.6px" viewBox="0 0 24 24" stroke-width="2.3"><rect x="4.6" y="2.8" width="14.8" height="18.4" rx="2.4"/><rect x="11.2" y="16.2" width="1.6" height="1.6" fill="currentColor" stroke="none"/></svg><span style="width:4.7px"></span><span style="color:#2a8a47;line-height:20px;position:relative;top:-0.4px">98</span></div>
<div class="badge uptb" data-t="100%" style="left:833px;top:877.5px;height:28px;background:#dffce7;color:#268a40;font-size:14px;line-height:28px;padding:0 7px;letter-spacing:0.2px;white-space:nowrap;-webkit-text-stroke:0.25px">100%</div>
<div class="t " style="left:1010.5px;top:881.65px;font-size:14px;line-height:20px;-webkit-text-stroke:0.2px;color:#48475f;letter-spacing:0.4px;">Rocket.net</div>
<div class="t " style="left:1188.5px;top:881.65px;font-size:14px;line-height:20px;-webkit-text-stroke:0.2px;color:#48475f;letter-spacing:0.4px;">—</div>
<svg class="a ic" style="left:1367px;top:864.4px;width:16px;height:10.5px;" viewBox="0 0 16 10.5" ><path d="M0.5 1.2 Q4 0.2 8 1 T15.5 0.8 V9.2 Q12 10.2 8 9.4 T0.5 9.6Z" fill="#1f3d94"/><g fill="#f4d23a" opacity="0.55"><circle cx="8" cy="3" r=".5"/><circle cx="10" cy="5.2" r=".5"/><circle cx="8" cy="7.4" r=".5"/><circle cx="6" cy="5.2" r=".5"/></g></svg>
<div class="t " style="left:1388.3px;top:861.40px;font-size:13px;line-height:18px;-webkit-text-stroke:0.2px;color:#48475f;letter-spacing:0.6px;">Europe · Every 30</div>
<div class="t " style="left:1366.5px;top:881.40px;font-size:13px;line-height:18px;-webkit-text-stroke:0.2px;color:#48475f;letter-spacing:0.6px;">min</div>
<div class="a" style="left:1366px;top:903.9px;width:20px;height:20px;border-radius:4px;background:#fde9eb"></div>
<svg class="a ic" style="left:1369.5px;top:907.4px;width:13px;height:13px;color:#dc2433;" viewBox="0 0 24 24" stroke-width="2.2" ><path d="M9 15l6-6"/><path d="M11 6l.463-.536a5 5 0 0 1 7.071 7.072l-.534.464"/><path d="M13 18l-.397.534a5.068 5.068 0 0 1-7.127 0a4.972 4.972 0 0 1 0-7.071l.524-.463"/></svg>
<div class="t " style="left:1394.6px;top:904.05px;font-size:14px;line-height:20px;-webkit-text-stroke:0.2px;color:#48475f;letter-spacing:0.35px;">Link checker</div>
<svg class="a ic" style="left:1603.1px;top:884.2px;width:15.4px;height:15.4px;color:#1c1b2e;" viewBox="0 0 24 24" ><path fill="currentColor" stroke="none" d="M21.469 6.825c.84 1.537 1.318 3.3 1.318 5.175 0 3.979-2.156 7.456-5.363 9.325l3.295-9.527c.615-1.54.82-2.771.82-3.864 0-.405-.026-.78-.07-1.11m-7.981.105c.647-.03 1.232-.105 1.232-.105.582-.075.514-.93-.067-.899 0 0-1.755.135-2.88.135-1.064 0-2.85-.15-2.85-.15-.585-.03-.661.855-.075.885 0 0 .54.061 1.125.09l1.68 4.605-2.37 7.08L5.354 6.9c.649-.03 1.234-.1 1.234-.1.585-.075.516-.93-.065-.896 0 0-1.746.138-2.874.138-.2 0-.438-.008-.69-.015C4.911 3.15 8.235 1.215 12 1.215c2.809 0 5.365 1.072 7.286 2.833-.046-.003-.091-.009-.141-.009-1.06 0-1.812.923-1.812 1.914 0 .89.513 1.643 1.06 2.531.411.72.89 1.643.89 2.977 0 .915-.354 1.994-.821 3.479l-1.075 3.585-3.9-11.61.001.014zM12 22.784c-1.059 0-2.081-.153-3.048-.437l3.237-9.406 3.315 9.087c.024.053.05.101.078.149-1.12.393-2.325.609-3.582.609M1.211 12c0-1.564.336-3.05.935-4.39L7.29 21.709C3.694 19.96 1.212 16.271 1.211 12M12 0C5.385 0 0 5.385 0 12s5.385 12 12 12 12-5.385 12-12S18.615 0 12 0"/></svg>
<div class="t " style="left:1627.7px;top:881.65px;font-size:14px;line-height:20px;font-weight:700;color:#1a1a2e;">Admin</div>
<svg class="a ic" style="left:1678px;top:884.8px;width:14.4px;height:14.4px;color:#1c1b2e;" viewBox="0 0 24 24" stroke-width="2.1" ><path d="M12 6h-6a2 2 0 0 0-2 2v10a2 2 0 0 0 2 2h10a2 2 0 0 0 2-2v-6"/><path d="M11 13l9-9"/><path d="M15 4h5v5"/></svg>
<div class="cb" style="left:283px;top:975px"></div>
<div class="a" style="left:315px;top:970.5px;width:24px;height:24px;border-radius:50%;background:#dffce7"></div>
<svg class="a ic" style="left:319.2px;top:975.0px;width:16px;height:16px;color:#23843c;" viewBox="0 0 24 24" stroke-width="2.7" ><path d="M3 17l6-6l4 4l8-8"/><path d="M14 7h7v7"/></svg>
<div class="a" style="left:347px;top:967.5px;width:30px;height:30px;border-radius:5px;background:#fff"></div>
<svg class="a" style="left:348px;top:968.9px;width:28px;height:28px" viewBox="-1 -1 28 28"><circle cx="13.1" cy="12.9" r="11.7" fill="#fff" stroke="#5a66ac" stroke-opacity="0.35" stroke-width="4.2"/><circle cx="13.1" cy="12.9" r="11.7" fill="none" stroke="#4f5ca6" stroke-opacity="0.9" stroke-width="2.2"/><g fill="#a3acd3" stroke="#a3acd3" stroke-width="1.2" stroke-opacity="0.45" stroke-linejoin="round"><path d="M6.2 5.6 C8 4 11 3.6 14.2 4.4 L13.6 6.8 L11.8 8.4 L12.6 10.6 L10.8 12.6 L10.2 14.8 L8.6 13.8 L7.2 11 L6.2 8Z"/><path d="M17.6 5.8 L20.6 7.4 L22.3 10.6 L22.4 14.4 L20.6 15.4 L18.8 14.2 L18.2 11.6 L17.4 9.2Z" fill="#b6bedf" stroke="#b6bedf"/><path d="M10.9 15.2 L14.8 14.9 L17.8 16.8 L17.4 20 L15.4 22.8 L13.6 23.2 L12.8 20.6 L11.5 18Z"/><path d="M11 3.9 L14 3.7 L13.5 5.2 L11.4 5.4Z" stroke="none"/></g></svg>
<div class="t " style="left:401.5px;top:964.65px;font-size:14px;line-height:20px;font-weight:700;color:#3d3b5c;">The WP Umbrella Testing Lab</div>
<div class="t " style="left:401.5px;top:983.65px;font-size:14px;line-height:20px;-webkit-text-stroke:0.2px;color:#1b2140;letter-spacing:0.48px;">thewpumbrellaslab.kinsta.clo...<svg class="ic" style="position:relative;display:inline-block;vertical-align:top;margin-top:2.6px;margin-left:9.4px;width:15.5px;height:15.5px;color:#1b2140" viewBox="0 0 24 24" stroke-width="2.1"><path d="M12 6h-6a2 2 0 0 0-2 2v10a2 2 0 0 0 2 2h10a2 2 0 0 0 2-2v-6"/><path d="M11 13l9-9"/><path d="M15 4h5v5"/></svg></div>
<div class="a" style="left:655px;top:971.0px;height:20px;display:flex;align-items:center;font-weight:700;font-size:14px;letter-spacing:0.8px;white-space:nowrap"><svg style="width:18px;height:18px;flex:none" viewBox="0 0 48 48"><path fill="#EA4335" d="M24 9.5c3.54 0 6.71 1.22 9.21 3.6l6.85-6.85C35.9 2.38 30.47 0 24 0 14.62 0 6.51 5.38 2.56 13.22l7.98 6.19C12.43 13.72 17.74 9.5 24 9.5z"/><path fill="#4285F4" d="M46.98 24.55c0-1.57-.15-3.09-.38-4.55H24v9.02h12.94c-.58 2.96-2.26 5.48-4.78 7.18l7.73 6c4.51-4.18 7.09-10.36 7.09-17.65z"/><path fill="#FBBC05" d="M10.53 28.59c-.48-1.45-.76-2.99-.76-4.59s.27-3.14.76-4.59l-7.98-6.19C.92 16.46 0 20.12 0 24c0 3.88.92 7.54 2.56 10.78l7.97-6.19z"/><path fill="#34A853" d="M24 48c6.48 0 11.93-2.13 15.89-5.81l-7.73-6c-2.15 1.45-4.92 2.3-8.16 2.3-6.26 0-11.57-4.22-13.47-9.91l-7.98 6.19C6.51 42.62 14.62 48 24 48z"/></svg><span style="width:8.5px"></span><span style="width:1px;height:16px;background:#dde1ea;flex:none"></span><span style="width:7.1px"></span><svg class="ic" style="width:17px;height:17px;color:#1a1b2b;flex:none;position:relative;top:-0.6px;left:-0.4px" viewBox="0 0 24 24" stroke-width="2.3"><rect x="3" y="3.6" width="18" height="12.6" rx="2"/><path d="M12 16.2v3.6M8.6 20.2h6.8"/></svg><span style="width:4.1px"></span><span style="color:#2a8a47;line-height:20px;position:relative;top:-0.4px">100</span><span style="width:8px"></span><span style="width:1px;height:16px;background:#dde1ea;flex:none"></span><span style="width:6.7px"></span><svg class="ic" style="width:17px;height:17px;color:#1a1b2b;flex:none;position:relative;top:-0.6px" viewBox="0 0 24 24" stroke-width="2.3"><rect x="4.6" y="2.8" width="14.8" height="18.4" rx="2.4"/><rect x="11.2" y="16.2" width="1.6" height="1.6" fill="currentColor" stroke="none"/></svg><span style="width:4.7px"></span><span style="color:#2a8a47;line-height:20px;position:relative;top:-0.4px">93</span></div>
<div class="badge uptb" data-t="100%" style="left:833px;top:968.5px;height:28px;background:#dffce7;color:#268a40;font-size:14px;line-height:28px;padding:0 7px;letter-spacing:0.2px;white-space:nowrap;-webkit-text-stroke:0.25px">100%</div>
<div class="t " style="left:1010.5px;top:972.65px;font-size:14px;line-height:20px;-webkit-text-stroke:0.2px;color:#48475f;letter-spacing:0.4px;">Kinsta</div>
<div class="t " style="left:1188.5px;top:972.65px;font-size:14px;line-height:20px;-webkit-text-stroke:0.2px;color:#48475f;letter-spacing:0.4px;">about 2 months ago</div>
<svg class="a ic" style="left:1367px;top:964.8px;width:16px;height:10.5px;" viewBox="0 0 16 10.5" ><path d="M0.5 1.2 Q4 0.2 8 1 T15.5 0.8 V9.2 Q12 10.2 8 9.4 T0.5 9.6Z" fill="#1f3d94"/><g fill="#f4d23a" opacity="0.55"><circle cx="8" cy="3" r=".5"/><circle cx="10" cy="5.2" r=".5"/><circle cx="8" cy="7.4" r=".5"/><circle cx="6" cy="5.2" r=".5"/></g></svg>
<div class="t " style="left:1388.3px;top:961.80px;font-size:13px;line-height:18px;-webkit-text-stroke:0.2px;color:#48475f;letter-spacing:0.6px;">Europe · Every 2 min</div>
<div class="a" style="left:1366px;top:985.0px;width:20px;height:20px;border-radius:4px;background:#fde9eb"></div>
<svg class="a ic" style="left:1369.5px;top:988.5px;width:13px;height:13px;color:#dc2433;" viewBox="0 0 24 24" stroke-width="2.2" ><path d="M9 15l6-6"/><path d="M11 6l.463-.536a5 5 0 0 1 7.071 7.072l-.534.464"/><path d="M13 18l-.397.534a5.068 5.068 0 0 1-7.127 0a4.972 4.972 0 0 1 0-7.071l.524-.463"/></svg>
<div class="t " style="left:1394.6px;top:985.15px;font-size:14px;line-height:20px;-webkit-text-stroke:0.2px;color:#48475f;letter-spacing:0.35px;">Link checker</div>
<svg class="a ic" style="left:1603.1px;top:975.2px;width:15.4px;height:15.4px;color:#1c1b2e;" viewBox="0 0 24 24" ><path fill="currentColor" stroke="none" d="M21.469 6.825c.84 1.537 1.318 3.3 1.318 5.175 0 3.979-2.156 7.456-5.363 9.325l3.295-9.527c.615-1.54.82-2.771.82-3.864 0-.405-.026-.78-.07-1.11m-7.981.105c.647-.03 1.232-.105 1.232-.105.582-.075.514-.93-.067-.899 0 0-1.755.135-2.88.135-1.064 0-2.85-.15-2.85-.15-.585-.03-.661.855-.075.885 0 0 .54.061 1.125.09l1.68 4.605-2.37 7.08L5.354 6.9c.649-.03 1.234-.1 1.234-.1.585-.075.516-.93-.065-.896 0 0-1.746.138-2.874.138-.2 0-.438-.008-.69-.015C4.911 3.15 8.235 1.215 12 1.215c2.809 0 5.365 1.072 7.286 2.833-.046-.003-.091-.009-.141-.009-1.06 0-1.812.923-1.812 1.914 0 .89.513 1.643 1.06 2.531.411.72.89 1.643.89 2.977 0 .915-.354 1.994-.821 3.479l-1.075 3.585-3.9-11.61.001.014zM12 22.784c-1.059 0-2.081-.153-3.048-.437l3.237-9.406 3.315 9.087c.024.053.05.101.078.149-1.12.393-2.325.609-3.582.609M1.211 12c0-1.564.336-3.05.935-4.39L7.29 21.709C3.694 19.96 1.212 16.271 1.211 12M12 0C5.385 0 0 5.385 0 12s5.385 12 12 12 12-5.385 12-12S18.615 0 12 0"/></svg>
<div class="t " style="left:1627.7px;top:972.65px;font-size:14px;line-height:20px;font-weight:700;color:#1a1a2e;">Admin</div>
<svg class="a ic" style="left:1678px;top:975.8px;width:14.4px;height:14.4px;color:#1c1b2e;" viewBox="0 0 24 24" stroke-width="2.1" ><path d="M12 6h-6a2 2 0 0 0-2 2v10a2 2 0 0 0 2 2h10a2 2 0 0 0 2-2v-6"/><path d="M11 13l9-9"/><path d="M15 4h5v5"/></svg>
<div class="a" style="left:1722px;top:440px;width:19px;height:180px;background:radial-gradient(ellipse 22px 70px at 30px 86px, rgba(0,0,0,0.028), rgba(0,0,0,0) 100%)"></div>
<svg class="a" style="left:0;top:0;width:1741px;height:1020px;overflow:visible" viewBox="0 0 1741 1020"><g fill="#0000ff" stroke="#0000ff" stroke-linecap="round"><path d="M669 353.3 L378 372.6" stroke-width="2.8" fill="none"/><path d="M354 375.2 L379.5 368.2 L380 378.8 Z" stroke-width="0.8"/><path d="M1113.6 419.2 L1416 387.5" stroke-width="2.8" fill="none"/><path d="M1438.5 384.1 L1413.5 381.8 L1414.3 391.8 Z" stroke-width="0.8"/></g><g fill="none" stroke="#fff" stroke-width="4.2" stroke-linecap="butt" stroke-linejoin="miter" opacity="0.9"><path d="M717.4 334.2 H719.6 L721.9 330.6 V347 M717 347 H727.2"/></g><g fill="none" stroke="#0000ff" stroke-width="2.1" stroke-linecap="butt" stroke-linejoin="miter"><path d="M717.4 334.2 H719.6 L721.9 330.6 V347 M717 347 H727.2"/><path d="M1091 407.2 C1093 405.2 1100.5 404.5 1100.5 409.5 C1100.5 413 1093 417 1090.5 421.2 H1101.8"/></g></svg>
</div></body></html>
